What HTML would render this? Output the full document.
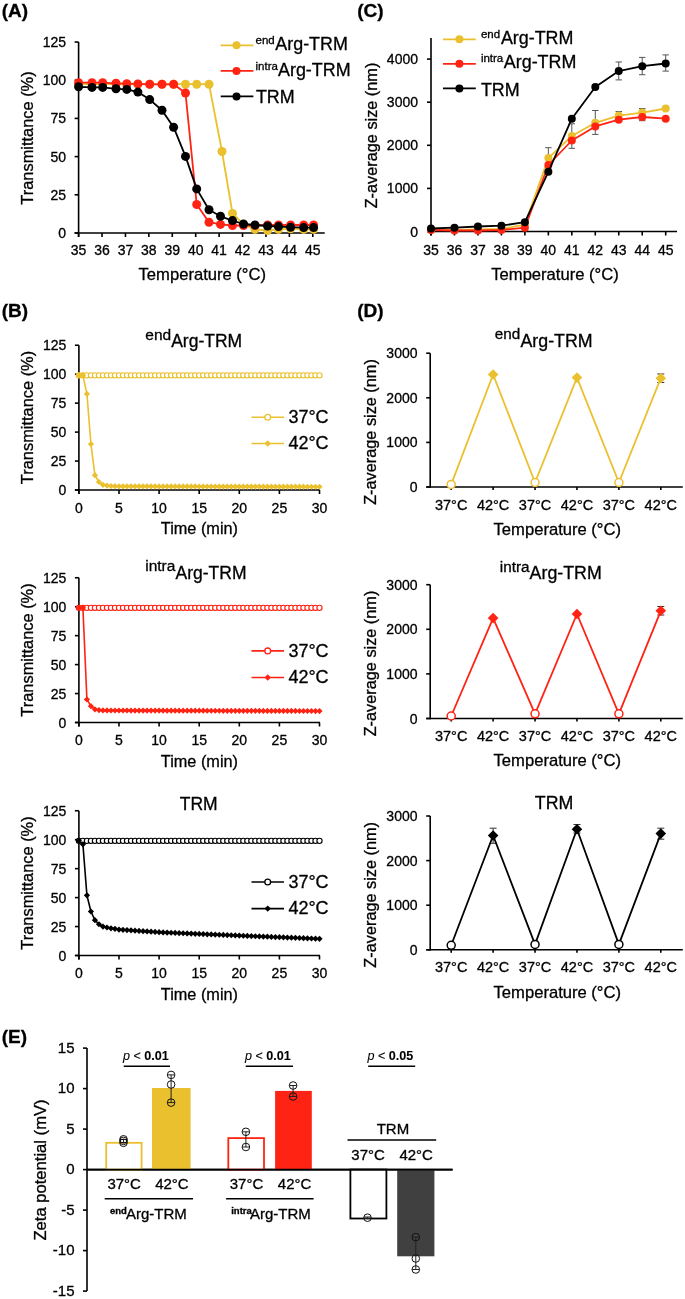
<!DOCTYPE html>
<html><head><meta charset="utf-8"><style>
html,body{margin:0;padding:0;background:#fff;}
svg{display:block;filter:blur(0.35px);}
text{font-family:"Liberation Sans", sans-serif;fill:#000;stroke:#000;stroke-width:0.3px;}
</style></head><body>
<svg width="685" height="1299" viewBox="0 0 685 1299">
<rect width="685" height="1299" fill="#fff"/>
<text x="1.80" y="16.60" font-size="19" font-weight="bold">(A)</text>
<text x="357.30" y="16.60" font-size="19" font-weight="bold">(C)</text>
<text x="1.80" y="317.30" font-size="19" font-weight="bold">(B)</text>
<text x="357.30" y="317.30" font-size="19" font-weight="bold">(D)</text>
<text x="1.80" y="1043.30" font-size="19" font-weight="bold">(E)</text>
<line x1="78.60" y1="42.00" x2="78.60" y2="237.00" stroke="#000000" stroke-width="1.6"/>
<line x1="74.60" y1="233.00" x2="324.70" y2="233.00" stroke="#000000" stroke-width="1.6"/>
<line x1="74.60" y1="233.00" x2="78.60" y2="233.00" stroke="#000000" stroke-width="1.6"/>
<text x="66.00" y="238.00" font-size="14" text-anchor="end">0</text>
<line x1="74.60" y1="194.80" x2="78.60" y2="194.80" stroke="#000000" stroke-width="1.6"/>
<text x="66.00" y="199.80" font-size="14" text-anchor="end">25</text>
<line x1="74.60" y1="156.60" x2="78.60" y2="156.60" stroke="#000000" stroke-width="1.6"/>
<text x="66.00" y="161.60" font-size="14" text-anchor="end">50</text>
<line x1="74.60" y1="118.40" x2="78.60" y2="118.40" stroke="#000000" stroke-width="1.6"/>
<text x="66.00" y="123.40" font-size="14" text-anchor="end">75</text>
<line x1="74.60" y1="80.20" x2="78.60" y2="80.20" stroke="#000000" stroke-width="1.6"/>
<text x="66.00" y="85.20" font-size="14" text-anchor="end">100</text>
<line x1="74.60" y1="42.00" x2="78.60" y2="42.00" stroke="#000000" stroke-width="1.6"/>
<text x="66.00" y="47.00" font-size="14" text-anchor="end">125</text>
<line x1="78.60" y1="233.00" x2="78.60" y2="237.00" stroke="#000000" stroke-width="1.6"/>
<text x="78.60" y="255.00" font-size="14" text-anchor="middle">35</text>
<line x1="102.02" y1="233.00" x2="102.02" y2="237.00" stroke="#000000" stroke-width="1.6"/>
<text x="102.02" y="255.00" font-size="14" text-anchor="middle">36</text>
<line x1="125.44" y1="233.00" x2="125.44" y2="237.00" stroke="#000000" stroke-width="1.6"/>
<text x="125.44" y="255.00" font-size="14" text-anchor="middle">37</text>
<line x1="148.86" y1="233.00" x2="148.86" y2="237.00" stroke="#000000" stroke-width="1.6"/>
<text x="148.86" y="255.00" font-size="14" text-anchor="middle">38</text>
<line x1="172.28" y1="233.00" x2="172.28" y2="237.00" stroke="#000000" stroke-width="1.6"/>
<text x="172.28" y="255.00" font-size="14" text-anchor="middle">39</text>
<line x1="195.70" y1="233.00" x2="195.70" y2="237.00" stroke="#000000" stroke-width="1.6"/>
<text x="195.70" y="255.00" font-size="14" text-anchor="middle">40</text>
<line x1="219.12" y1="233.00" x2="219.12" y2="237.00" stroke="#000000" stroke-width="1.6"/>
<text x="219.12" y="255.00" font-size="14" text-anchor="middle">41</text>
<line x1="242.54" y1="233.00" x2="242.54" y2="237.00" stroke="#000000" stroke-width="1.6"/>
<text x="242.54" y="255.00" font-size="14" text-anchor="middle">42</text>
<line x1="265.96" y1="233.00" x2="265.96" y2="237.00" stroke="#000000" stroke-width="1.6"/>
<text x="265.96" y="255.00" font-size="14" text-anchor="middle">43</text>
<line x1="289.38" y1="233.00" x2="289.38" y2="237.00" stroke="#000000" stroke-width="1.6"/>
<text x="289.38" y="255.00" font-size="14" text-anchor="middle">44</text>
<line x1="312.80" y1="233.00" x2="312.80" y2="237.00" stroke="#000000" stroke-width="1.6"/>
<text x="312.80" y="255.00" font-size="14" text-anchor="middle">45</text>
<text x="202.30" y="280.30" font-size="16.6" text-anchor="middle">Temperature (°C)</text>
<text x="32.80" y="138.00" font-size="16.4" text-anchor="middle" transform="rotate(-90 32.80 138.00)">Transmittance (%)</text>
<polyline points="78.60,84.20 92.00,84.20 102.70,84.20 116.00,84.20 126.80,84.20 137.90,84.20 149.70,84.20 162.00,84.20 173.60,84.20 185.50,84.20 196.70,84.20 209.00,84.20 222.00,151.50 232.50,213.40 243.50,224.40 255.00,229.40 267.60,230.50 278.50,229.40 290.60,228.70 303.70,229.40 313.60,229.40" fill="none" stroke="#EBC02E" stroke-width="1.8" stroke-linejoin="round"/>
<circle cx="78.60" cy="84.20" r="4.5" fill="#EBC02E" stroke="none" stroke-width="0"/>
<circle cx="92.00" cy="84.20" r="4.5" fill="#EBC02E" stroke="none" stroke-width="0"/>
<circle cx="102.70" cy="84.20" r="4.5" fill="#EBC02E" stroke="none" stroke-width="0"/>
<circle cx="116.00" cy="84.20" r="4.5" fill="#EBC02E" stroke="none" stroke-width="0"/>
<circle cx="126.80" cy="84.20" r="4.5" fill="#EBC02E" stroke="none" stroke-width="0"/>
<circle cx="137.90" cy="84.20" r="4.5" fill="#EBC02E" stroke="none" stroke-width="0"/>
<circle cx="149.70" cy="84.20" r="4.5" fill="#EBC02E" stroke="none" stroke-width="0"/>
<circle cx="162.00" cy="84.20" r="4.5" fill="#EBC02E" stroke="none" stroke-width="0"/>
<circle cx="173.60" cy="84.20" r="4.5" fill="#EBC02E" stroke="none" stroke-width="0"/>
<circle cx="185.50" cy="84.20" r="4.5" fill="#EBC02E" stroke="none" stroke-width="0"/>
<circle cx="196.70" cy="84.20" r="4.5" fill="#EBC02E" stroke="none" stroke-width="0"/>
<circle cx="209.00" cy="84.20" r="4.5" fill="#EBC02E" stroke="none" stroke-width="0"/>
<circle cx="222.00" cy="151.50" r="4.5" fill="#EBC02E" stroke="none" stroke-width="0"/>
<circle cx="232.50" cy="213.40" r="4.5" fill="#EBC02E" stroke="none" stroke-width="0"/>
<circle cx="243.50" cy="224.40" r="4.5" fill="#EBC02E" stroke="none" stroke-width="0"/>
<circle cx="255.00" cy="229.40" r="4.5" fill="#EBC02E" stroke="none" stroke-width="0"/>
<circle cx="267.60" cy="230.50" r="4.5" fill="#EBC02E" stroke="none" stroke-width="0"/>
<circle cx="278.50" cy="229.40" r="4.5" fill="#EBC02E" stroke="none" stroke-width="0"/>
<circle cx="290.60" cy="228.70" r="4.5" fill="#EBC02E" stroke="none" stroke-width="0"/>
<circle cx="303.70" cy="229.40" r="4.5" fill="#EBC02E" stroke="none" stroke-width="0"/>
<circle cx="313.60" cy="229.40" r="4.5" fill="#EBC02E" stroke="none" stroke-width="0"/>
<polyline points="78.60,82.70 92.00,82.70 102.70,82.70 116.00,83.30 126.80,83.70 137.90,83.90 149.70,84.30 162.00,84.30 173.60,84.30 185.50,93.00 196.70,204.50 209.00,222.20 220.50,224.40 232.50,225.50 243.50,225.50 255.00,225.50 267.60,225.00 278.50,225.00 290.60,225.00 303.70,225.00 313.60,225.00" fill="none" stroke="#FF2314" stroke-width="1.8" stroke-linejoin="round"/>
<circle cx="78.60" cy="82.70" r="4.5" fill="#FF2314" stroke="none" stroke-width="0"/>
<circle cx="92.00" cy="82.70" r="4.5" fill="#FF2314" stroke="none" stroke-width="0"/>
<circle cx="102.70" cy="82.70" r="4.5" fill="#FF2314" stroke="none" stroke-width="0"/>
<circle cx="116.00" cy="83.30" r="4.5" fill="#FF2314" stroke="none" stroke-width="0"/>
<circle cx="126.80" cy="83.70" r="4.5" fill="#FF2314" stroke="none" stroke-width="0"/>
<circle cx="137.90" cy="83.90" r="4.5" fill="#FF2314" stroke="none" stroke-width="0"/>
<circle cx="149.70" cy="84.30" r="4.5" fill="#FF2314" stroke="none" stroke-width="0"/>
<circle cx="162.00" cy="84.30" r="4.5" fill="#FF2314" stroke="none" stroke-width="0"/>
<circle cx="173.60" cy="84.30" r="4.5" fill="#FF2314" stroke="none" stroke-width="0"/>
<circle cx="185.50" cy="93.00" r="4.5" fill="#FF2314" stroke="none" stroke-width="0"/>
<circle cx="196.70" cy="204.50" r="4.5" fill="#FF2314" stroke="none" stroke-width="0"/>
<circle cx="209.00" cy="222.20" r="4.5" fill="#FF2314" stroke="none" stroke-width="0"/>
<circle cx="220.50" cy="224.40" r="4.5" fill="#FF2314" stroke="none" stroke-width="0"/>
<circle cx="232.50" cy="225.50" r="4.5" fill="#FF2314" stroke="none" stroke-width="0"/>
<circle cx="243.50" cy="225.50" r="4.5" fill="#FF2314" stroke="none" stroke-width="0"/>
<circle cx="255.00" cy="225.50" r="4.5" fill="#FF2314" stroke="none" stroke-width="0"/>
<circle cx="267.60" cy="225.00" r="4.5" fill="#FF2314" stroke="none" stroke-width="0"/>
<circle cx="278.50" cy="225.00" r="4.5" fill="#FF2314" stroke="none" stroke-width="0"/>
<circle cx="290.60" cy="225.00" r="4.5" fill="#FF2314" stroke="none" stroke-width="0"/>
<circle cx="303.70" cy="225.00" r="4.5" fill="#FF2314" stroke="none" stroke-width="0"/>
<circle cx="313.60" cy="225.00" r="4.5" fill="#FF2314" stroke="none" stroke-width="0"/>
<polyline points="78.60,86.80 92.00,87.40 102.70,87.40 116.00,88.80 126.80,89.40 137.90,92.10 149.70,99.60 162.00,110.30 173.60,127.20 185.50,156.40 196.70,188.90 209.00,209.70 220.50,216.30 232.50,220.60 243.50,224.00 255.00,225.00 267.60,226.00 278.50,226.60 290.60,227.20 303.70,227.60 313.60,227.60" fill="none" stroke="#000000" stroke-width="1.8" stroke-linejoin="round"/>
<circle cx="78.60" cy="86.80" r="4.5" fill="#000000" stroke="none" stroke-width="0"/>
<circle cx="92.00" cy="87.40" r="4.5" fill="#000000" stroke="none" stroke-width="0"/>
<circle cx="102.70" cy="87.40" r="4.5" fill="#000000" stroke="none" stroke-width="0"/>
<circle cx="116.00" cy="88.80" r="4.5" fill="#000000" stroke="none" stroke-width="0"/>
<circle cx="126.80" cy="89.40" r="4.5" fill="#000000" stroke="none" stroke-width="0"/>
<circle cx="137.90" cy="92.10" r="4.5" fill="#000000" stroke="none" stroke-width="0"/>
<circle cx="149.70" cy="99.60" r="4.5" fill="#000000" stroke="none" stroke-width="0"/>
<circle cx="162.00" cy="110.30" r="4.5" fill="#000000" stroke="none" stroke-width="0"/>
<circle cx="173.60" cy="127.20" r="4.5" fill="#000000" stroke="none" stroke-width="0"/>
<circle cx="185.50" cy="156.40" r="4.5" fill="#000000" stroke="none" stroke-width="0"/>
<circle cx="196.70" cy="188.90" r="4.5" fill="#000000" stroke="none" stroke-width="0"/>
<circle cx="209.00" cy="209.70" r="4.5" fill="#000000" stroke="none" stroke-width="0"/>
<circle cx="220.50" cy="216.30" r="4.5" fill="#000000" stroke="none" stroke-width="0"/>
<circle cx="232.50" cy="220.60" r="4.5" fill="#000000" stroke="none" stroke-width="0"/>
<circle cx="243.50" cy="224.00" r="4.5" fill="#000000" stroke="none" stroke-width="0"/>
<circle cx="255.00" cy="225.00" r="4.5" fill="#000000" stroke="none" stroke-width="0"/>
<circle cx="267.60" cy="226.00" r="4.5" fill="#000000" stroke="none" stroke-width="0"/>
<circle cx="278.50" cy="226.60" r="4.5" fill="#000000" stroke="none" stroke-width="0"/>
<circle cx="290.60" cy="227.20" r="4.5" fill="#000000" stroke="none" stroke-width="0"/>
<circle cx="303.70" cy="227.60" r="4.5" fill="#000000" stroke="none" stroke-width="0"/>
<circle cx="313.60" cy="227.60" r="4.5" fill="#000000" stroke="none" stroke-width="0"/>
<line x1="220.70" y1="45.30" x2="253.40" y2="45.30" stroke="#EBC02E" stroke-width="1.8"/>
<circle cx="236.50" cy="45.30" r="4" fill="#EBC02E" stroke="none" stroke-width="0"/>
<line x1="220.70" y1="70.90" x2="253.40" y2="70.90" stroke="#FF2314" stroke-width="1.8"/>
<circle cx="236.50" cy="70.90" r="4" fill="#FF2314" stroke="none" stroke-width="0"/>
<line x1="220.70" y1="96.40" x2="253.40" y2="96.40" stroke="#000000" stroke-width="1.8"/>
<circle cx="236.50" cy="96.40" r="4" fill="#000000" stroke="none" stroke-width="0"/>
<text x="255.50" y="44.30" font-size="11.5">end</text>
<text x="275.30" y="50.40" font-size="17.9">Arg-TRM</text>
<text x="255.50" y="69.50" font-size="11.5">intra</text>
<text x="278.00" y="75.60" font-size="17.9">Arg-TRM</text>
<text x="255.90" y="102.50" font-size="17.9">TRM</text>
<line x1="431.00" y1="38.00" x2="431.00" y2="235.50" stroke="#000000" stroke-width="1.6"/>
<line x1="427.00" y1="231.50" x2="677.00" y2="231.50" stroke="#000000" stroke-width="1.6"/>
<line x1="427.00" y1="231.50" x2="431.00" y2="231.50" stroke="#000000" stroke-width="1.6"/>
<text x="418.00" y="236.50" font-size="14" text-anchor="end">0</text>
<line x1="427.00" y1="188.40" x2="431.00" y2="188.40" stroke="#000000" stroke-width="1.6"/>
<text x="418.00" y="193.40" font-size="14" text-anchor="end">1000</text>
<line x1="427.00" y1="145.30" x2="431.00" y2="145.30" stroke="#000000" stroke-width="1.6"/>
<text x="418.00" y="150.30" font-size="14" text-anchor="end">2000</text>
<line x1="427.00" y1="102.20" x2="431.00" y2="102.20" stroke="#000000" stroke-width="1.6"/>
<text x="418.00" y="107.20" font-size="14" text-anchor="end">3000</text>
<line x1="427.00" y1="59.10" x2="431.00" y2="59.10" stroke="#000000" stroke-width="1.6"/>
<text x="418.00" y="64.10" font-size="14" text-anchor="end">4000</text>
<line x1="431.00" y1="231.50" x2="431.00" y2="235.50" stroke="#000000" stroke-width="1.6"/>
<text x="431.00" y="254.50" font-size="14" text-anchor="middle">35</text>
<line x1="454.47" y1="231.50" x2="454.47" y2="235.50" stroke="#000000" stroke-width="1.6"/>
<text x="454.47" y="254.50" font-size="14" text-anchor="middle">36</text>
<line x1="477.94" y1="231.50" x2="477.94" y2="235.50" stroke="#000000" stroke-width="1.6"/>
<text x="477.94" y="254.50" font-size="14" text-anchor="middle">37</text>
<line x1="501.41" y1="231.50" x2="501.41" y2="235.50" stroke="#000000" stroke-width="1.6"/>
<text x="501.41" y="254.50" font-size="14" text-anchor="middle">38</text>
<line x1="524.88" y1="231.50" x2="524.88" y2="235.50" stroke="#000000" stroke-width="1.6"/>
<text x="524.88" y="254.50" font-size="14" text-anchor="middle">39</text>
<line x1="548.35" y1="231.50" x2="548.35" y2="235.50" stroke="#000000" stroke-width="1.6"/>
<text x="548.35" y="254.50" font-size="14" text-anchor="middle">40</text>
<line x1="571.82" y1="231.50" x2="571.82" y2="235.50" stroke="#000000" stroke-width="1.6"/>
<text x="571.82" y="254.50" font-size="14" text-anchor="middle">41</text>
<line x1="595.29" y1="231.50" x2="595.29" y2="235.50" stroke="#000000" stroke-width="1.6"/>
<text x="595.29" y="254.50" font-size="14" text-anchor="middle">42</text>
<line x1="618.76" y1="231.50" x2="618.76" y2="235.50" stroke="#000000" stroke-width="1.6"/>
<text x="618.76" y="254.50" font-size="14" text-anchor="middle">43</text>
<line x1="642.23" y1="231.50" x2="642.23" y2="235.50" stroke="#000000" stroke-width="1.6"/>
<text x="642.23" y="254.50" font-size="14" text-anchor="middle">44</text>
<line x1="665.70" y1="231.50" x2="665.70" y2="235.50" stroke="#000000" stroke-width="1.6"/>
<text x="665.70" y="254.50" font-size="14" text-anchor="middle">45</text>
<text x="555.00" y="279.60" font-size="16.6" text-anchor="middle">Temperature (°C)</text>
<text x="377.30" y="135.50" font-size="16.3" text-anchor="middle" transform="rotate(-90 377.30 135.50)">Z-average size (nm)</text>
<line x1="548.35" y1="147.70" x2="548.35" y2="168.00" stroke="#555" stroke-width="1.0"/>
<line x1="545.15" y1="147.70" x2="551.55" y2="147.70" stroke="#555" stroke-width="1.0"/>
<line x1="545.15" y1="168.00" x2="551.55" y2="168.00" stroke="#555" stroke-width="1.0"/>
<line x1="571.82" y1="123.80" x2="571.82" y2="148.30" stroke="#555" stroke-width="1.0"/>
<line x1="568.62" y1="123.80" x2="575.02" y2="123.80" stroke="#555" stroke-width="1.0"/>
<line x1="568.62" y1="148.30" x2="575.02" y2="148.30" stroke="#555" stroke-width="1.0"/>
<line x1="595.29" y1="110.50" x2="595.29" y2="134.40" stroke="#555" stroke-width="1.0"/>
<line x1="592.09" y1="110.50" x2="598.49" y2="110.50" stroke="#555" stroke-width="1.0"/>
<line x1="592.09" y1="134.40" x2="598.49" y2="134.40" stroke="#555" stroke-width="1.0"/>
<line x1="618.76" y1="111.50" x2="618.76" y2="120.00" stroke="#555" stroke-width="1.0"/>
<line x1="615.56" y1="111.50" x2="621.96" y2="111.50" stroke="#555" stroke-width="1.0"/>
<line x1="615.56" y1="120.00" x2="621.96" y2="120.00" stroke="#555" stroke-width="1.0"/>
<line x1="642.23" y1="108.50" x2="642.23" y2="120.70" stroke="#555" stroke-width="1.0"/>
<line x1="639.03" y1="108.50" x2="645.43" y2="108.50" stroke="#555" stroke-width="1.0"/>
<line x1="639.03" y1="120.70" x2="645.43" y2="120.70" stroke="#555" stroke-width="1.0"/>
<polyline points="431.00,230.00 454.47,230.00 477.94,229.50 501.41,229.00 524.88,224.60 548.35,158.10 571.82,136.00 595.29,122.80 618.76,115.60 642.23,112.60 665.70,108.50" fill="none" stroke="#EBC02E" stroke-width="1.8" stroke-linejoin="round"/>
<circle cx="431.00" cy="230.00" r="4.0" fill="#EBC02E" stroke="none" stroke-width="0"/>
<circle cx="454.47" cy="230.00" r="4.0" fill="#EBC02E" stroke="none" stroke-width="0"/>
<circle cx="477.94" cy="229.50" r="4.0" fill="#EBC02E" stroke="none" stroke-width="0"/>
<circle cx="501.41" cy="229.00" r="4.0" fill="#EBC02E" stroke="none" stroke-width="0"/>
<circle cx="524.88" cy="224.60" r="4.0" fill="#EBC02E" stroke="none" stroke-width="0"/>
<circle cx="548.35" cy="158.10" r="4.0" fill="#EBC02E" stroke="none" stroke-width="0"/>
<circle cx="571.82" cy="136.00" r="4.0" fill="#EBC02E" stroke="none" stroke-width="0"/>
<circle cx="595.29" cy="122.80" r="4.0" fill="#EBC02E" stroke="none" stroke-width="0"/>
<circle cx="618.76" cy="115.60" r="4.0" fill="#EBC02E" stroke="none" stroke-width="0"/>
<circle cx="642.23" cy="112.60" r="4.0" fill="#EBC02E" stroke="none" stroke-width="0"/>
<circle cx="665.70" cy="108.50" r="4.0" fill="#EBC02E" stroke="none" stroke-width="0"/>
<polyline points="431.00,230.00 454.47,230.50 477.94,230.50 501.41,230.00 524.88,227.70 548.35,165.00 571.82,140.50 595.29,126.40 618.76,119.70 642.23,117.00 665.70,118.70" fill="none" stroke="#FF2314" stroke-width="1.8" stroke-linejoin="round"/>
<circle cx="431.00" cy="230.00" r="4.0" fill="#FF2314" stroke="none" stroke-width="0"/>
<circle cx="454.47" cy="230.50" r="4.0" fill="#FF2314" stroke="none" stroke-width="0"/>
<circle cx="477.94" cy="230.50" r="4.0" fill="#FF2314" stroke="none" stroke-width="0"/>
<circle cx="501.41" cy="230.00" r="4.0" fill="#FF2314" stroke="none" stroke-width="0"/>
<circle cx="524.88" cy="227.70" r="4.0" fill="#FF2314" stroke="none" stroke-width="0"/>
<circle cx="548.35" cy="165.00" r="4.0" fill="#FF2314" stroke="none" stroke-width="0"/>
<circle cx="571.82" cy="140.50" r="4.0" fill="#FF2314" stroke="none" stroke-width="0"/>
<circle cx="595.29" cy="126.40" r="4.0" fill="#FF2314" stroke="none" stroke-width="0"/>
<circle cx="618.76" cy="119.70" r="4.0" fill="#FF2314" stroke="none" stroke-width="0"/>
<circle cx="642.23" cy="117.00" r="4.0" fill="#FF2314" stroke="none" stroke-width="0"/>
<circle cx="665.70" cy="118.70" r="4.0" fill="#FF2314" stroke="none" stroke-width="0"/>
<line x1="618.76" y1="62.00" x2="618.76" y2="79.90" stroke="#555" stroke-width="1.0"/>
<line x1="615.56" y1="62.00" x2="621.96" y2="62.00" stroke="#555" stroke-width="1.0"/>
<line x1="615.56" y1="79.90" x2="621.96" y2="79.90" stroke="#555" stroke-width="1.0"/>
<line x1="642.23" y1="57.40" x2="642.23" y2="74.70" stroke="#555" stroke-width="1.0"/>
<line x1="639.03" y1="57.40" x2="645.43" y2="57.40" stroke="#555" stroke-width="1.0"/>
<line x1="639.03" y1="74.70" x2="645.43" y2="74.70" stroke="#555" stroke-width="1.0"/>
<line x1="665.70" y1="54.90" x2="665.70" y2="71.10" stroke="#555" stroke-width="1.0"/>
<line x1="662.50" y1="54.90" x2="668.90" y2="54.90" stroke="#555" stroke-width="1.0"/>
<line x1="662.50" y1="71.10" x2="668.90" y2="71.10" stroke="#555" stroke-width="1.0"/>
<polyline points="431.00,228.50 454.47,227.70 477.94,226.50 501.41,225.70 524.88,222.20 548.35,171.80 571.82,118.70 595.29,87.00 618.76,71.10 642.23,66.20 665.70,63.50" fill="none" stroke="#000000" stroke-width="1.8" stroke-linejoin="round"/>
<circle cx="431.00" cy="228.50" r="4.0" fill="#000000" stroke="none" stroke-width="0"/>
<circle cx="454.47" cy="227.70" r="4.0" fill="#000000" stroke="none" stroke-width="0"/>
<circle cx="477.94" cy="226.50" r="4.0" fill="#000000" stroke="none" stroke-width="0"/>
<circle cx="501.41" cy="225.70" r="4.0" fill="#000000" stroke="none" stroke-width="0"/>
<circle cx="524.88" cy="222.20" r="4.0" fill="#000000" stroke="none" stroke-width="0"/>
<circle cx="548.35" cy="171.80" r="4.0" fill="#000000" stroke="none" stroke-width="0"/>
<circle cx="571.82" cy="118.70" r="4.0" fill="#000000" stroke="none" stroke-width="0"/>
<circle cx="595.29" cy="87.00" r="4.0" fill="#000000" stroke="none" stroke-width="0"/>
<circle cx="618.76" cy="71.10" r="4.0" fill="#000000" stroke="none" stroke-width="0"/>
<circle cx="642.23" cy="66.20" r="4.0" fill="#000000" stroke="none" stroke-width="0"/>
<circle cx="665.70" cy="63.50" r="4.0" fill="#000000" stroke="none" stroke-width="0"/>
<line x1="443.00" y1="39.30" x2="475.80" y2="39.30" stroke="#EBC02E" stroke-width="1.8"/>
<circle cx="459.40" cy="39.30" r="4" fill="#EBC02E" stroke="none" stroke-width="0"/>
<line x1="443.00" y1="63.80" x2="475.80" y2="63.80" stroke="#FF2314" stroke-width="1.8"/>
<circle cx="459.40" cy="63.80" r="4" fill="#FF2314" stroke="none" stroke-width="0"/>
<line x1="443.00" y1="88.40" x2="475.80" y2="88.40" stroke="#000000" stroke-width="1.8"/>
<circle cx="459.40" cy="88.40" r="4" fill="#000000" stroke="none" stroke-width="0"/>
<text x="480.90" y="37.80" font-size="11.5">end</text>
<text x="500.90" y="43.80" font-size="17.9">Arg-TRM</text>
<text x="480.90" y="62.30" font-size="11.5">intra</text>
<text x="503.80" y="68.30" font-size="17.9">Arg-TRM</text>
<text x="480.90" y="95.50" font-size="17.9">TRM</text>
<line x1="78.90" y1="345.25" x2="78.90" y2="494.00" stroke="#000000" stroke-width="1.6"/>
<line x1="74.90" y1="490.00" x2="320.00" y2="490.00" stroke="#000000" stroke-width="1.6"/>
<line x1="74.90" y1="490.00" x2="78.90" y2="490.00" stroke="#000000" stroke-width="1.6"/>
<text x="66.30" y="495.00" font-size="14" text-anchor="end">0</text>
<line x1="74.90" y1="461.05" x2="78.90" y2="461.05" stroke="#000000" stroke-width="1.6"/>
<text x="66.30" y="466.05" font-size="14" text-anchor="end">25</text>
<line x1="74.90" y1="432.10" x2="78.90" y2="432.10" stroke="#000000" stroke-width="1.6"/>
<text x="66.30" y="437.10" font-size="14" text-anchor="end">50</text>
<line x1="74.90" y1="403.15" x2="78.90" y2="403.15" stroke="#000000" stroke-width="1.6"/>
<text x="66.30" y="408.15" font-size="14" text-anchor="end">75</text>
<line x1="74.90" y1="374.20" x2="78.90" y2="374.20" stroke="#000000" stroke-width="1.6"/>
<text x="66.30" y="379.20" font-size="14" text-anchor="end">100</text>
<line x1="74.90" y1="345.25" x2="78.90" y2="345.25" stroke="#000000" stroke-width="1.6"/>
<text x="66.30" y="350.25" font-size="14" text-anchor="end">125</text>
<line x1="78.90" y1="490.00" x2="78.90" y2="494.00" stroke="#000000" stroke-width="1.6"/>
<text x="78.90" y="512.50" font-size="14" text-anchor="middle">0</text>
<line x1="119.00" y1="490.00" x2="119.00" y2="494.00" stroke="#000000" stroke-width="1.6"/>
<text x="119.00" y="512.50" font-size="14" text-anchor="middle">5</text>
<line x1="159.10" y1="490.00" x2="159.10" y2="494.00" stroke="#000000" stroke-width="1.6"/>
<text x="159.10" y="512.50" font-size="14" text-anchor="middle">10</text>
<line x1="199.20" y1="490.00" x2="199.20" y2="494.00" stroke="#000000" stroke-width="1.6"/>
<text x="199.20" y="512.50" font-size="14" text-anchor="middle">15</text>
<line x1="239.30" y1="490.00" x2="239.30" y2="494.00" stroke="#000000" stroke-width="1.6"/>
<text x="239.30" y="512.50" font-size="14" text-anchor="middle">20</text>
<line x1="279.40" y1="490.00" x2="279.40" y2="494.00" stroke="#000000" stroke-width="1.6"/>
<text x="279.40" y="512.50" font-size="14" text-anchor="middle">25</text>
<line x1="319.50" y1="490.00" x2="319.50" y2="494.00" stroke="#000000" stroke-width="1.6"/>
<text x="319.50" y="512.50" font-size="14" text-anchor="middle">30</text>
<text x="199.40" y="534.30" font-size="16.3" text-anchor="middle">Time (min)</text>
<text x="33.30" y="417.50" font-size="16.4" text-anchor="middle" transform="rotate(-90 33.30 417.50)">Transmittance (%)</text>
<polyline points="78.90,375.36 82.91,375.36 86.92,375.36 90.93,375.36 94.94,375.36 98.95,375.36 102.96,375.36 106.97,375.36 110.98,375.36 114.99,375.36 119.00,375.36 123.01,375.36 127.02,375.36 131.03,375.36 135.04,375.36 139.05,375.36 143.06,375.36 147.07,375.36 151.08,375.36 155.09,375.36 159.10,375.36 163.11,375.36 167.12,375.36 171.13,375.36 175.14,375.36 179.15,375.36 183.16,375.36 187.17,375.36 191.18,375.36 195.19,375.36 199.20,375.36 203.21,375.36 207.22,375.36 211.23,375.36 215.24,375.36 219.25,375.36 223.26,375.36 227.27,375.36 231.28,375.36 235.29,375.36 239.30,375.36 243.31,375.36 247.32,375.36 251.33,375.36 255.34,375.36 259.35,375.36 263.36,375.36 267.37,375.36 271.38,375.36 275.39,375.36 279.40,375.36 283.41,375.36 287.42,375.36 291.43,375.36 295.44,375.36 299.45,375.36 303.46,375.36 307.47,375.36 311.48,375.36 315.49,375.36 319.50,375.36" fill="none" stroke="#EBC02E" stroke-width="1.4" stroke-linejoin="round"/>
<circle cx="78.90" cy="375.36" r="2.6" fill="#fff" stroke="#EBC02E" stroke-width="1.15"/>
<circle cx="82.91" cy="375.36" r="2.6" fill="#fff" stroke="#EBC02E" stroke-width="1.15"/>
<circle cx="86.92" cy="375.36" r="2.6" fill="#fff" stroke="#EBC02E" stroke-width="1.15"/>
<circle cx="90.93" cy="375.36" r="2.6" fill="#fff" stroke="#EBC02E" stroke-width="1.15"/>
<circle cx="94.94" cy="375.36" r="2.6" fill="#fff" stroke="#EBC02E" stroke-width="1.15"/>
<circle cx="98.95" cy="375.36" r="2.6" fill="#fff" stroke="#EBC02E" stroke-width="1.15"/>
<circle cx="102.96" cy="375.36" r="2.6" fill="#fff" stroke="#EBC02E" stroke-width="1.15"/>
<circle cx="106.97" cy="375.36" r="2.6" fill="#fff" stroke="#EBC02E" stroke-width="1.15"/>
<circle cx="110.98" cy="375.36" r="2.6" fill="#fff" stroke="#EBC02E" stroke-width="1.15"/>
<circle cx="114.99" cy="375.36" r="2.6" fill="#fff" stroke="#EBC02E" stroke-width="1.15"/>
<circle cx="119.00" cy="375.36" r="2.6" fill="#fff" stroke="#EBC02E" stroke-width="1.15"/>
<circle cx="123.01" cy="375.36" r="2.6" fill="#fff" stroke="#EBC02E" stroke-width="1.15"/>
<circle cx="127.02" cy="375.36" r="2.6" fill="#fff" stroke="#EBC02E" stroke-width="1.15"/>
<circle cx="131.03" cy="375.36" r="2.6" fill="#fff" stroke="#EBC02E" stroke-width="1.15"/>
<circle cx="135.04" cy="375.36" r="2.6" fill="#fff" stroke="#EBC02E" stroke-width="1.15"/>
<circle cx="139.05" cy="375.36" r="2.6" fill="#fff" stroke="#EBC02E" stroke-width="1.15"/>
<circle cx="143.06" cy="375.36" r="2.6" fill="#fff" stroke="#EBC02E" stroke-width="1.15"/>
<circle cx="147.07" cy="375.36" r="2.6" fill="#fff" stroke="#EBC02E" stroke-width="1.15"/>
<circle cx="151.08" cy="375.36" r="2.6" fill="#fff" stroke="#EBC02E" stroke-width="1.15"/>
<circle cx="155.09" cy="375.36" r="2.6" fill="#fff" stroke="#EBC02E" stroke-width="1.15"/>
<circle cx="159.10" cy="375.36" r="2.6" fill="#fff" stroke="#EBC02E" stroke-width="1.15"/>
<circle cx="163.11" cy="375.36" r="2.6" fill="#fff" stroke="#EBC02E" stroke-width="1.15"/>
<circle cx="167.12" cy="375.36" r="2.6" fill="#fff" stroke="#EBC02E" stroke-width="1.15"/>
<circle cx="171.13" cy="375.36" r="2.6" fill="#fff" stroke="#EBC02E" stroke-width="1.15"/>
<circle cx="175.14" cy="375.36" r="2.6" fill="#fff" stroke="#EBC02E" stroke-width="1.15"/>
<circle cx="179.15" cy="375.36" r="2.6" fill="#fff" stroke="#EBC02E" stroke-width="1.15"/>
<circle cx="183.16" cy="375.36" r="2.6" fill="#fff" stroke="#EBC02E" stroke-width="1.15"/>
<circle cx="187.17" cy="375.36" r="2.6" fill="#fff" stroke="#EBC02E" stroke-width="1.15"/>
<circle cx="191.18" cy="375.36" r="2.6" fill="#fff" stroke="#EBC02E" stroke-width="1.15"/>
<circle cx="195.19" cy="375.36" r="2.6" fill="#fff" stroke="#EBC02E" stroke-width="1.15"/>
<circle cx="199.20" cy="375.36" r="2.6" fill="#fff" stroke="#EBC02E" stroke-width="1.15"/>
<circle cx="203.21" cy="375.36" r="2.6" fill="#fff" stroke="#EBC02E" stroke-width="1.15"/>
<circle cx="207.22" cy="375.36" r="2.6" fill="#fff" stroke="#EBC02E" stroke-width="1.15"/>
<circle cx="211.23" cy="375.36" r="2.6" fill="#fff" stroke="#EBC02E" stroke-width="1.15"/>
<circle cx="215.24" cy="375.36" r="2.6" fill="#fff" stroke="#EBC02E" stroke-width="1.15"/>
<circle cx="219.25" cy="375.36" r="2.6" fill="#fff" stroke="#EBC02E" stroke-width="1.15"/>
<circle cx="223.26" cy="375.36" r="2.6" fill="#fff" stroke="#EBC02E" stroke-width="1.15"/>
<circle cx="227.27" cy="375.36" r="2.6" fill="#fff" stroke="#EBC02E" stroke-width="1.15"/>
<circle cx="231.28" cy="375.36" r="2.6" fill="#fff" stroke="#EBC02E" stroke-width="1.15"/>
<circle cx="235.29" cy="375.36" r="2.6" fill="#fff" stroke="#EBC02E" stroke-width="1.15"/>
<circle cx="239.30" cy="375.36" r="2.6" fill="#fff" stroke="#EBC02E" stroke-width="1.15"/>
<circle cx="243.31" cy="375.36" r="2.6" fill="#fff" stroke="#EBC02E" stroke-width="1.15"/>
<circle cx="247.32" cy="375.36" r="2.6" fill="#fff" stroke="#EBC02E" stroke-width="1.15"/>
<circle cx="251.33" cy="375.36" r="2.6" fill="#fff" stroke="#EBC02E" stroke-width="1.15"/>
<circle cx="255.34" cy="375.36" r="2.6" fill="#fff" stroke="#EBC02E" stroke-width="1.15"/>
<circle cx="259.35" cy="375.36" r="2.6" fill="#fff" stroke="#EBC02E" stroke-width="1.15"/>
<circle cx="263.36" cy="375.36" r="2.6" fill="#fff" stroke="#EBC02E" stroke-width="1.15"/>
<circle cx="267.37" cy="375.36" r="2.6" fill="#fff" stroke="#EBC02E" stroke-width="1.15"/>
<circle cx="271.38" cy="375.36" r="2.6" fill="#fff" stroke="#EBC02E" stroke-width="1.15"/>
<circle cx="275.39" cy="375.36" r="2.6" fill="#fff" stroke="#EBC02E" stroke-width="1.15"/>
<circle cx="279.40" cy="375.36" r="2.6" fill="#fff" stroke="#EBC02E" stroke-width="1.15"/>
<circle cx="283.41" cy="375.36" r="2.6" fill="#fff" stroke="#EBC02E" stroke-width="1.15"/>
<circle cx="287.42" cy="375.36" r="2.6" fill="#fff" stroke="#EBC02E" stroke-width="1.15"/>
<circle cx="291.43" cy="375.36" r="2.6" fill="#fff" stroke="#EBC02E" stroke-width="1.15"/>
<circle cx="295.44" cy="375.36" r="2.6" fill="#fff" stroke="#EBC02E" stroke-width="1.15"/>
<circle cx="299.45" cy="375.36" r="2.6" fill="#fff" stroke="#EBC02E" stroke-width="1.15"/>
<circle cx="303.46" cy="375.36" r="2.6" fill="#fff" stroke="#EBC02E" stroke-width="1.15"/>
<circle cx="307.47" cy="375.36" r="2.6" fill="#fff" stroke="#EBC02E" stroke-width="1.15"/>
<circle cx="311.48" cy="375.36" r="2.6" fill="#fff" stroke="#EBC02E" stroke-width="1.15"/>
<circle cx="315.49" cy="375.36" r="2.6" fill="#fff" stroke="#EBC02E" stroke-width="1.15"/>
<circle cx="319.50" cy="375.36" r="2.6" fill="#fff" stroke="#EBC02E" stroke-width="1.15"/>
<polyline points="78.90,375.36 82.91,375.36 86.92,393.89 90.93,444.03 94.94,475.18 98.95,482.01 102.96,484.79 106.97,485.60 110.98,486.06 114.99,486.18 119.00,486.29 123.01,486.30 127.02,486.31 131.03,486.32 135.04,486.33 139.05,486.34 143.06,486.35 147.07,486.36 151.08,486.37 155.09,486.38 159.10,486.39 163.11,486.40 167.12,486.41 171.13,486.41 175.14,486.42 179.15,486.43 183.16,486.44 187.17,486.45 191.18,486.46 195.19,486.47 199.20,486.48 203.21,486.49 207.22,486.50 211.23,486.51 215.24,486.52 219.25,486.53 223.26,486.54 227.27,486.54 231.28,486.55 235.29,486.56 239.30,486.57 243.31,486.58 247.32,486.59 251.33,486.60 255.34,486.61 259.35,486.62 263.36,486.63 267.37,486.64 271.38,486.65 275.39,486.66 279.40,486.66 283.41,486.67 287.42,486.68 291.43,486.69 295.44,486.70 299.45,486.71 303.46,486.72 307.47,486.73 311.48,486.74 315.49,486.75 319.50,486.76" fill="none" stroke="#EBC02E" stroke-width="1.6" stroke-linejoin="round"/>
<path d="M78.90 372.26L82.00 375.36L78.90 378.46L75.80 375.36Z" fill="#EBC02E"/>
<path d="M82.91 372.26L86.01 375.36L82.91 378.46L79.81 375.36Z" fill="#EBC02E"/>
<path d="M86.92 390.79L90.02 393.89L86.92 396.99L83.82 393.89Z" fill="#EBC02E"/>
<path d="M90.93 440.93L94.03 444.03L90.93 447.13L87.83 444.03Z" fill="#EBC02E"/>
<path d="M94.94 472.08L98.04 475.18L94.94 478.28L91.84 475.18Z" fill="#EBC02E"/>
<path d="M98.95 478.91L102.05 482.01L98.95 485.11L95.85 482.01Z" fill="#EBC02E"/>
<path d="M102.96 481.69L106.06 484.79L102.96 487.89L99.86 484.79Z" fill="#EBC02E"/>
<path d="M106.97 482.50L110.07 485.60L106.97 488.70L103.87 485.60Z" fill="#EBC02E"/>
<path d="M110.98 482.96L114.08 486.06L110.98 489.16L107.88 486.06Z" fill="#EBC02E"/>
<path d="M114.99 483.08L118.09 486.18L114.99 489.28L111.89 486.18Z" fill="#EBC02E"/>
<path d="M119.00 483.19L122.10 486.29L119.00 489.39L115.90 486.29Z" fill="#EBC02E"/>
<path d="M123.01 483.20L126.11 486.30L123.01 489.40L119.91 486.30Z" fill="#EBC02E"/>
<path d="M127.02 483.21L130.12 486.31L127.02 489.41L123.92 486.31Z" fill="#EBC02E"/>
<path d="M131.03 483.22L134.13 486.32L131.03 489.42L127.93 486.32Z" fill="#EBC02E"/>
<path d="M135.04 483.23L138.14 486.33L135.04 489.43L131.94 486.33Z" fill="#EBC02E"/>
<path d="M139.05 483.24L142.15 486.34L139.05 489.44L135.95 486.34Z" fill="#EBC02E"/>
<path d="M143.06 483.25L146.16 486.35L143.06 489.45L139.96 486.35Z" fill="#EBC02E"/>
<path d="M147.07 483.26L150.17 486.36L147.07 489.46L143.97 486.36Z" fill="#EBC02E"/>
<path d="M151.08 483.27L154.18 486.37L151.08 489.47L147.98 486.37Z" fill="#EBC02E"/>
<path d="M155.09 483.28L158.19 486.38L155.09 489.48L151.99 486.38Z" fill="#EBC02E"/>
<path d="M159.10 483.29L162.20 486.39L159.10 489.49L156.00 486.39Z" fill="#EBC02E"/>
<path d="M163.11 483.30L166.21 486.40L163.11 489.50L160.01 486.40Z" fill="#EBC02E"/>
<path d="M167.12 483.31L170.22 486.41L167.12 489.51L164.02 486.41Z" fill="#EBC02E"/>
<path d="M171.13 483.31L174.23 486.41L171.13 489.51L168.03 486.41Z" fill="#EBC02E"/>
<path d="M175.14 483.32L178.24 486.42L175.14 489.52L172.04 486.42Z" fill="#EBC02E"/>
<path d="M179.15 483.33L182.25 486.43L179.15 489.53L176.05 486.43Z" fill="#EBC02E"/>
<path d="M183.16 483.34L186.26 486.44L183.16 489.54L180.06 486.44Z" fill="#EBC02E"/>
<path d="M187.17 483.35L190.27 486.45L187.17 489.55L184.07 486.45Z" fill="#EBC02E"/>
<path d="M191.18 483.36L194.28 486.46L191.18 489.56L188.08 486.46Z" fill="#EBC02E"/>
<path d="M195.19 483.37L198.29 486.47L195.19 489.57L192.09 486.47Z" fill="#EBC02E"/>
<path d="M199.20 483.38L202.30 486.48L199.20 489.58L196.10 486.48Z" fill="#EBC02E"/>
<path d="M203.21 483.39L206.31 486.49L203.21 489.59L200.11 486.49Z" fill="#EBC02E"/>
<path d="M207.22 483.40L210.32 486.50L207.22 489.60L204.12 486.50Z" fill="#EBC02E"/>
<path d="M211.23 483.41L214.33 486.51L211.23 489.61L208.13 486.51Z" fill="#EBC02E"/>
<path d="M215.24 483.42L218.34 486.52L215.24 489.62L212.14 486.52Z" fill="#EBC02E"/>
<path d="M219.25 483.43L222.35 486.53L219.25 489.63L216.15 486.53Z" fill="#EBC02E"/>
<path d="M223.26 483.44L226.36 486.54L223.26 489.64L220.16 486.54Z" fill="#EBC02E"/>
<path d="M227.27 483.44L230.37 486.54L227.27 489.64L224.17 486.54Z" fill="#EBC02E"/>
<path d="M231.28 483.45L234.38 486.55L231.28 489.65L228.18 486.55Z" fill="#EBC02E"/>
<path d="M235.29 483.46L238.39 486.56L235.29 489.66L232.19 486.56Z" fill="#EBC02E"/>
<path d="M239.30 483.47L242.40 486.57L239.30 489.67L236.20 486.57Z" fill="#EBC02E"/>
<path d="M243.31 483.48L246.41 486.58L243.31 489.68L240.21 486.58Z" fill="#EBC02E"/>
<path d="M247.32 483.49L250.42 486.59L247.32 489.69L244.22 486.59Z" fill="#EBC02E"/>
<path d="M251.33 483.50L254.43 486.60L251.33 489.70L248.23 486.60Z" fill="#EBC02E"/>
<path d="M255.34 483.51L258.44 486.61L255.34 489.71L252.24 486.61Z" fill="#EBC02E"/>
<path d="M259.35 483.52L262.45 486.62L259.35 489.72L256.25 486.62Z" fill="#EBC02E"/>
<path d="M263.36 483.53L266.46 486.63L263.36 489.73L260.26 486.63Z" fill="#EBC02E"/>
<path d="M267.37 483.54L270.47 486.64L267.37 489.74L264.27 486.64Z" fill="#EBC02E"/>
<path d="M271.38 483.55L274.48 486.65L271.38 489.75L268.28 486.65Z" fill="#EBC02E"/>
<path d="M275.39 483.56L278.49 486.66L275.39 489.76L272.29 486.66Z" fill="#EBC02E"/>
<path d="M279.40 483.56L282.50 486.66L279.40 489.76L276.30 486.66Z" fill="#EBC02E"/>
<path d="M283.41 483.57L286.51 486.67L283.41 489.77L280.31 486.67Z" fill="#EBC02E"/>
<path d="M287.42 483.58L290.52 486.68L287.42 489.78L284.32 486.68Z" fill="#EBC02E"/>
<path d="M291.43 483.59L294.53 486.69L291.43 489.79L288.33 486.69Z" fill="#EBC02E"/>
<path d="M295.44 483.60L298.54 486.70L295.44 489.80L292.34 486.70Z" fill="#EBC02E"/>
<path d="M299.45 483.61L302.55 486.71L299.45 489.81L296.35 486.71Z" fill="#EBC02E"/>
<path d="M303.46 483.62L306.56 486.72L303.46 489.82L300.36 486.72Z" fill="#EBC02E"/>
<path d="M307.47 483.63L310.57 486.73L307.47 489.83L304.37 486.73Z" fill="#EBC02E"/>
<path d="M311.48 483.64L314.58 486.74L311.48 489.84L308.38 486.74Z" fill="#EBC02E"/>
<path d="M315.49 483.65L318.59 486.75L315.49 489.85L312.39 486.75Z" fill="#EBC02E"/>
<path d="M319.50 483.66L322.60 486.76L319.50 489.86L316.40 486.76Z" fill="#EBC02E"/>
<line x1="251.50" y1="417.30" x2="284.00" y2="417.30" stroke="#EBC02E" stroke-width="1.6"/>
<circle cx="267.70" cy="417.30" r="2.9" fill="#fff" stroke="#EBC02E" stroke-width="1.3"/>
<line x1="251.50" y1="443.50" x2="284.00" y2="443.50" stroke="#EBC02E" stroke-width="1.6"/>
<path d="M267.70 440.30L270.90 443.50L267.70 446.70L264.50 443.50Z" fill="#EBC02E"/>
<text x="288.40" y="423.10" font-size="18">37°C</text>
<text x="288.40" y="449.30" font-size="18">42°C</text>
<text x="145.30" y="339.50" font-size="15.5">end</text>
<text x="171.20" y="346.60" font-size="17.5">Arg-TRM</text>
<line x1="78.90" y1="577.75" x2="78.90" y2="726.50" stroke="#000000" stroke-width="1.6"/>
<line x1="74.90" y1="722.50" x2="320.00" y2="722.50" stroke="#000000" stroke-width="1.6"/>
<line x1="74.90" y1="722.50" x2="78.90" y2="722.50" stroke="#000000" stroke-width="1.6"/>
<text x="66.30" y="727.50" font-size="14" text-anchor="end">0</text>
<line x1="74.90" y1="693.55" x2="78.90" y2="693.55" stroke="#000000" stroke-width="1.6"/>
<text x="66.30" y="698.55" font-size="14" text-anchor="end">25</text>
<line x1="74.90" y1="664.60" x2="78.90" y2="664.60" stroke="#000000" stroke-width="1.6"/>
<text x="66.30" y="669.60" font-size="14" text-anchor="end">50</text>
<line x1="74.90" y1="635.65" x2="78.90" y2="635.65" stroke="#000000" stroke-width="1.6"/>
<text x="66.30" y="640.65" font-size="14" text-anchor="end">75</text>
<line x1="74.90" y1="606.70" x2="78.90" y2="606.70" stroke="#000000" stroke-width="1.6"/>
<text x="66.30" y="611.70" font-size="14" text-anchor="end">100</text>
<line x1="74.90" y1="577.75" x2="78.90" y2="577.75" stroke="#000000" stroke-width="1.6"/>
<text x="66.30" y="582.75" font-size="14" text-anchor="end">125</text>
<line x1="78.90" y1="722.50" x2="78.90" y2="726.50" stroke="#000000" stroke-width="1.6"/>
<text x="78.90" y="745.00" font-size="14" text-anchor="middle">0</text>
<line x1="119.00" y1="722.50" x2="119.00" y2="726.50" stroke="#000000" stroke-width="1.6"/>
<text x="119.00" y="745.00" font-size="14" text-anchor="middle">5</text>
<line x1="159.10" y1="722.50" x2="159.10" y2="726.50" stroke="#000000" stroke-width="1.6"/>
<text x="159.10" y="745.00" font-size="14" text-anchor="middle">10</text>
<line x1="199.20" y1="722.50" x2="199.20" y2="726.50" stroke="#000000" stroke-width="1.6"/>
<text x="199.20" y="745.00" font-size="14" text-anchor="middle">15</text>
<line x1="239.30" y1="722.50" x2="239.30" y2="726.50" stroke="#000000" stroke-width="1.6"/>
<text x="239.30" y="745.00" font-size="14" text-anchor="middle">20</text>
<line x1="279.40" y1="722.50" x2="279.40" y2="726.50" stroke="#000000" stroke-width="1.6"/>
<text x="279.40" y="745.00" font-size="14" text-anchor="middle">25</text>
<line x1="319.50" y1="722.50" x2="319.50" y2="726.50" stroke="#000000" stroke-width="1.6"/>
<text x="319.50" y="745.00" font-size="14" text-anchor="middle">30</text>
<text x="199.40" y="766.80" font-size="16.3" text-anchor="middle">Time (min)</text>
<text x="33.30" y="650.00" font-size="16.4" text-anchor="middle" transform="rotate(-90 33.30 650.00)">Transmittance (%)</text>
<polyline points="78.90,607.86 82.91,607.86 86.92,607.86 90.93,607.86 94.94,607.86 98.95,607.86 102.96,607.86 106.97,607.86 110.98,607.86 114.99,607.86 119.00,607.86 123.01,607.86 127.02,607.86 131.03,607.86 135.04,607.86 139.05,607.86 143.06,607.86 147.07,607.86 151.08,607.86 155.09,607.86 159.10,607.86 163.11,607.86 167.12,607.86 171.13,607.86 175.14,607.86 179.15,607.86 183.16,607.86 187.17,607.86 191.18,607.86 195.19,607.86 199.20,607.86 203.21,607.86 207.22,607.86 211.23,607.86 215.24,607.86 219.25,607.86 223.26,607.86 227.27,607.86 231.28,607.86 235.29,607.86 239.30,607.86 243.31,607.86 247.32,607.86 251.33,607.86 255.34,607.86 259.35,607.86 263.36,607.86 267.37,607.86 271.38,607.86 275.39,607.86 279.40,607.86 283.41,607.86 287.42,607.86 291.43,607.86 295.44,607.86 299.45,607.86 303.46,607.86 307.47,607.86 311.48,607.86 315.49,607.86 319.50,607.86" fill="none" stroke="#FF2314" stroke-width="1.4" stroke-linejoin="round"/>
<circle cx="78.90" cy="607.86" r="2.6" fill="#fff" stroke="#FF2314" stroke-width="1.15"/>
<circle cx="82.91" cy="607.86" r="2.6" fill="#fff" stroke="#FF2314" stroke-width="1.15"/>
<circle cx="86.92" cy="607.86" r="2.6" fill="#fff" stroke="#FF2314" stroke-width="1.15"/>
<circle cx="90.93" cy="607.86" r="2.6" fill="#fff" stroke="#FF2314" stroke-width="1.15"/>
<circle cx="94.94" cy="607.86" r="2.6" fill="#fff" stroke="#FF2314" stroke-width="1.15"/>
<circle cx="98.95" cy="607.86" r="2.6" fill="#fff" stroke="#FF2314" stroke-width="1.15"/>
<circle cx="102.96" cy="607.86" r="2.6" fill="#fff" stroke="#FF2314" stroke-width="1.15"/>
<circle cx="106.97" cy="607.86" r="2.6" fill="#fff" stroke="#FF2314" stroke-width="1.15"/>
<circle cx="110.98" cy="607.86" r="2.6" fill="#fff" stroke="#FF2314" stroke-width="1.15"/>
<circle cx="114.99" cy="607.86" r="2.6" fill="#fff" stroke="#FF2314" stroke-width="1.15"/>
<circle cx="119.00" cy="607.86" r="2.6" fill="#fff" stroke="#FF2314" stroke-width="1.15"/>
<circle cx="123.01" cy="607.86" r="2.6" fill="#fff" stroke="#FF2314" stroke-width="1.15"/>
<circle cx="127.02" cy="607.86" r="2.6" fill="#fff" stroke="#FF2314" stroke-width="1.15"/>
<circle cx="131.03" cy="607.86" r="2.6" fill="#fff" stroke="#FF2314" stroke-width="1.15"/>
<circle cx="135.04" cy="607.86" r="2.6" fill="#fff" stroke="#FF2314" stroke-width="1.15"/>
<circle cx="139.05" cy="607.86" r="2.6" fill="#fff" stroke="#FF2314" stroke-width="1.15"/>
<circle cx="143.06" cy="607.86" r="2.6" fill="#fff" stroke="#FF2314" stroke-width="1.15"/>
<circle cx="147.07" cy="607.86" r="2.6" fill="#fff" stroke="#FF2314" stroke-width="1.15"/>
<circle cx="151.08" cy="607.86" r="2.6" fill="#fff" stroke="#FF2314" stroke-width="1.15"/>
<circle cx="155.09" cy="607.86" r="2.6" fill="#fff" stroke="#FF2314" stroke-width="1.15"/>
<circle cx="159.10" cy="607.86" r="2.6" fill="#fff" stroke="#FF2314" stroke-width="1.15"/>
<circle cx="163.11" cy="607.86" r="2.6" fill="#fff" stroke="#FF2314" stroke-width="1.15"/>
<circle cx="167.12" cy="607.86" r="2.6" fill="#fff" stroke="#FF2314" stroke-width="1.15"/>
<circle cx="171.13" cy="607.86" r="2.6" fill="#fff" stroke="#FF2314" stroke-width="1.15"/>
<circle cx="175.14" cy="607.86" r="2.6" fill="#fff" stroke="#FF2314" stroke-width="1.15"/>
<circle cx="179.15" cy="607.86" r="2.6" fill="#fff" stroke="#FF2314" stroke-width="1.15"/>
<circle cx="183.16" cy="607.86" r="2.6" fill="#fff" stroke="#FF2314" stroke-width="1.15"/>
<circle cx="187.17" cy="607.86" r="2.6" fill="#fff" stroke="#FF2314" stroke-width="1.15"/>
<circle cx="191.18" cy="607.86" r="2.6" fill="#fff" stroke="#FF2314" stroke-width="1.15"/>
<circle cx="195.19" cy="607.86" r="2.6" fill="#fff" stroke="#FF2314" stroke-width="1.15"/>
<circle cx="199.20" cy="607.86" r="2.6" fill="#fff" stroke="#FF2314" stroke-width="1.15"/>
<circle cx="203.21" cy="607.86" r="2.6" fill="#fff" stroke="#FF2314" stroke-width="1.15"/>
<circle cx="207.22" cy="607.86" r="2.6" fill="#fff" stroke="#FF2314" stroke-width="1.15"/>
<circle cx="211.23" cy="607.86" r="2.6" fill="#fff" stroke="#FF2314" stroke-width="1.15"/>
<circle cx="215.24" cy="607.86" r="2.6" fill="#fff" stroke="#FF2314" stroke-width="1.15"/>
<circle cx="219.25" cy="607.86" r="2.6" fill="#fff" stroke="#FF2314" stroke-width="1.15"/>
<circle cx="223.26" cy="607.86" r="2.6" fill="#fff" stroke="#FF2314" stroke-width="1.15"/>
<circle cx="227.27" cy="607.86" r="2.6" fill="#fff" stroke="#FF2314" stroke-width="1.15"/>
<circle cx="231.28" cy="607.86" r="2.6" fill="#fff" stroke="#FF2314" stroke-width="1.15"/>
<circle cx="235.29" cy="607.86" r="2.6" fill="#fff" stroke="#FF2314" stroke-width="1.15"/>
<circle cx="239.30" cy="607.86" r="2.6" fill="#fff" stroke="#FF2314" stroke-width="1.15"/>
<circle cx="243.31" cy="607.86" r="2.6" fill="#fff" stroke="#FF2314" stroke-width="1.15"/>
<circle cx="247.32" cy="607.86" r="2.6" fill="#fff" stroke="#FF2314" stroke-width="1.15"/>
<circle cx="251.33" cy="607.86" r="2.6" fill="#fff" stroke="#FF2314" stroke-width="1.15"/>
<circle cx="255.34" cy="607.86" r="2.6" fill="#fff" stroke="#FF2314" stroke-width="1.15"/>
<circle cx="259.35" cy="607.86" r="2.6" fill="#fff" stroke="#FF2314" stroke-width="1.15"/>
<circle cx="263.36" cy="607.86" r="2.6" fill="#fff" stroke="#FF2314" stroke-width="1.15"/>
<circle cx="267.37" cy="607.86" r="2.6" fill="#fff" stroke="#FF2314" stroke-width="1.15"/>
<circle cx="271.38" cy="607.86" r="2.6" fill="#fff" stroke="#FF2314" stroke-width="1.15"/>
<circle cx="275.39" cy="607.86" r="2.6" fill="#fff" stroke="#FF2314" stroke-width="1.15"/>
<circle cx="279.40" cy="607.86" r="2.6" fill="#fff" stroke="#FF2314" stroke-width="1.15"/>
<circle cx="283.41" cy="607.86" r="2.6" fill="#fff" stroke="#FF2314" stroke-width="1.15"/>
<circle cx="287.42" cy="607.86" r="2.6" fill="#fff" stroke="#FF2314" stroke-width="1.15"/>
<circle cx="291.43" cy="607.86" r="2.6" fill="#fff" stroke="#FF2314" stroke-width="1.15"/>
<circle cx="295.44" cy="607.86" r="2.6" fill="#fff" stroke="#FF2314" stroke-width="1.15"/>
<circle cx="299.45" cy="607.86" r="2.6" fill="#fff" stroke="#FF2314" stroke-width="1.15"/>
<circle cx="303.46" cy="607.86" r="2.6" fill="#fff" stroke="#FF2314" stroke-width="1.15"/>
<circle cx="307.47" cy="607.86" r="2.6" fill="#fff" stroke="#FF2314" stroke-width="1.15"/>
<circle cx="311.48" cy="607.86" r="2.6" fill="#fff" stroke="#FF2314" stroke-width="1.15"/>
<circle cx="315.49" cy="607.86" r="2.6" fill="#fff" stroke="#FF2314" stroke-width="1.15"/>
<circle cx="319.50" cy="607.86" r="2.6" fill="#fff" stroke="#FF2314" stroke-width="1.15"/>
<polyline points="78.90,607.86 82.91,607.86 86.92,699.46 90.93,706.17 94.94,709.30 98.95,710.11 102.96,710.46 106.97,710.47 110.98,710.48 114.99,710.49 119.00,710.50 123.01,710.51 127.02,710.52 131.03,710.53 135.04,710.54 139.05,710.55 143.06,710.56 147.07,710.57 151.08,710.59 155.09,710.60 159.10,710.61 163.11,710.62 167.12,710.63 171.13,710.64 175.14,710.65 179.15,710.66 183.16,710.67 187.17,710.68 191.18,710.69 195.19,710.70 199.20,710.71 203.21,710.72 207.22,710.74 211.23,710.75 215.24,710.76 219.25,710.77 223.26,710.78 227.27,710.79 231.28,710.80 235.29,710.81 239.30,710.82 243.31,710.83 247.32,710.84 251.33,710.85 255.34,710.86 259.35,710.87 263.36,710.89 267.37,710.90 271.38,710.91 275.39,710.92 279.40,710.93 283.41,710.94 287.42,710.95 291.43,710.96 295.44,710.97 299.45,710.98 303.46,710.99 307.47,711.00 311.48,711.01 315.49,711.03 319.50,711.04" fill="none" stroke="#FF2314" stroke-width="1.6" stroke-linejoin="round"/>
<path d="M78.90 604.76L82.00 607.86L78.90 610.96L75.80 607.86Z" fill="#FF2314"/>
<path d="M82.91 604.76L86.01 607.86L82.91 610.96L79.81 607.86Z" fill="#FF2314"/>
<path d="M86.92 696.36L90.02 699.46L86.92 702.56L83.82 699.46Z" fill="#FF2314"/>
<path d="M90.93 703.07L94.03 706.17L90.93 709.27L87.83 706.17Z" fill="#FF2314"/>
<path d="M94.94 706.20L98.04 709.30L94.94 712.40L91.84 709.30Z" fill="#FF2314"/>
<path d="M98.95 707.01L102.05 710.11L98.95 713.21L95.85 710.11Z" fill="#FF2314"/>
<path d="M102.96 707.36L106.06 710.46L102.96 713.56L99.86 710.46Z" fill="#FF2314"/>
<path d="M106.97 707.37L110.07 710.47L106.97 713.57L103.87 710.47Z" fill="#FF2314"/>
<path d="M110.98 707.38L114.08 710.48L110.98 713.58L107.88 710.48Z" fill="#FF2314"/>
<path d="M114.99 707.39L118.09 710.49L114.99 713.59L111.89 710.49Z" fill="#FF2314"/>
<path d="M119.00 707.40L122.10 710.50L119.00 713.60L115.90 710.50Z" fill="#FF2314"/>
<path d="M123.01 707.41L126.11 710.51L123.01 713.61L119.91 710.51Z" fill="#FF2314"/>
<path d="M127.02 707.42L130.12 710.52L127.02 713.62L123.92 710.52Z" fill="#FF2314"/>
<path d="M131.03 707.43L134.13 710.53L131.03 713.63L127.93 710.53Z" fill="#FF2314"/>
<path d="M135.04 707.44L138.14 710.54L135.04 713.64L131.94 710.54Z" fill="#FF2314"/>
<path d="M139.05 707.45L142.15 710.55L139.05 713.65L135.95 710.55Z" fill="#FF2314"/>
<path d="M143.06 707.46L146.16 710.56L143.06 713.66L139.96 710.56Z" fill="#FF2314"/>
<path d="M147.07 707.47L150.17 710.57L147.07 713.67L143.97 710.57Z" fill="#FF2314"/>
<path d="M151.08 707.49L154.18 710.59L151.08 713.69L147.98 710.59Z" fill="#FF2314"/>
<path d="M155.09 707.50L158.19 710.60L155.09 713.70L151.99 710.60Z" fill="#FF2314"/>
<path d="M159.10 707.51L162.20 710.61L159.10 713.71L156.00 710.61Z" fill="#FF2314"/>
<path d="M163.11 707.52L166.21 710.62L163.11 713.72L160.01 710.62Z" fill="#FF2314"/>
<path d="M167.12 707.53L170.22 710.63L167.12 713.73L164.02 710.63Z" fill="#FF2314"/>
<path d="M171.13 707.54L174.23 710.64L171.13 713.74L168.03 710.64Z" fill="#FF2314"/>
<path d="M175.14 707.55L178.24 710.65L175.14 713.75L172.04 710.65Z" fill="#FF2314"/>
<path d="M179.15 707.56L182.25 710.66L179.15 713.76L176.05 710.66Z" fill="#FF2314"/>
<path d="M183.16 707.57L186.26 710.67L183.16 713.77L180.06 710.67Z" fill="#FF2314"/>
<path d="M187.17 707.58L190.27 710.68L187.17 713.78L184.07 710.68Z" fill="#FF2314"/>
<path d="M191.18 707.59L194.28 710.69L191.18 713.79L188.08 710.69Z" fill="#FF2314"/>
<path d="M195.19 707.60L198.29 710.70L195.19 713.80L192.09 710.70Z" fill="#FF2314"/>
<path d="M199.20 707.61L202.30 710.71L199.20 713.81L196.10 710.71Z" fill="#FF2314"/>
<path d="M203.21 707.62L206.31 710.72L203.21 713.82L200.11 710.72Z" fill="#FF2314"/>
<path d="M207.22 707.64L210.32 710.74L207.22 713.84L204.12 710.74Z" fill="#FF2314"/>
<path d="M211.23 707.65L214.33 710.75L211.23 713.85L208.13 710.75Z" fill="#FF2314"/>
<path d="M215.24 707.66L218.34 710.76L215.24 713.86L212.14 710.76Z" fill="#FF2314"/>
<path d="M219.25 707.67L222.35 710.77L219.25 713.87L216.15 710.77Z" fill="#FF2314"/>
<path d="M223.26 707.68L226.36 710.78L223.26 713.88L220.16 710.78Z" fill="#FF2314"/>
<path d="M227.27 707.69L230.37 710.79L227.27 713.89L224.17 710.79Z" fill="#FF2314"/>
<path d="M231.28 707.70L234.38 710.80L231.28 713.90L228.18 710.80Z" fill="#FF2314"/>
<path d="M235.29 707.71L238.39 710.81L235.29 713.91L232.19 710.81Z" fill="#FF2314"/>
<path d="M239.30 707.72L242.40 710.82L239.30 713.92L236.20 710.82Z" fill="#FF2314"/>
<path d="M243.31 707.73L246.41 710.83L243.31 713.93L240.21 710.83Z" fill="#FF2314"/>
<path d="M247.32 707.74L250.42 710.84L247.32 713.94L244.22 710.84Z" fill="#FF2314"/>
<path d="M251.33 707.75L254.43 710.85L251.33 713.95L248.23 710.85Z" fill="#FF2314"/>
<path d="M255.34 707.76L258.44 710.86L255.34 713.96L252.24 710.86Z" fill="#FF2314"/>
<path d="M259.35 707.77L262.45 710.87L259.35 713.97L256.25 710.87Z" fill="#FF2314"/>
<path d="M263.36 707.79L266.46 710.89L263.36 713.99L260.26 710.89Z" fill="#FF2314"/>
<path d="M267.37 707.80L270.47 710.90L267.37 714.00L264.27 710.90Z" fill="#FF2314"/>
<path d="M271.38 707.81L274.48 710.91L271.38 714.01L268.28 710.91Z" fill="#FF2314"/>
<path d="M275.39 707.82L278.49 710.92L275.39 714.02L272.29 710.92Z" fill="#FF2314"/>
<path d="M279.40 707.83L282.50 710.93L279.40 714.03L276.30 710.93Z" fill="#FF2314"/>
<path d="M283.41 707.84L286.51 710.94L283.41 714.04L280.31 710.94Z" fill="#FF2314"/>
<path d="M287.42 707.85L290.52 710.95L287.42 714.05L284.32 710.95Z" fill="#FF2314"/>
<path d="M291.43 707.86L294.53 710.96L291.43 714.06L288.33 710.96Z" fill="#FF2314"/>
<path d="M295.44 707.87L298.54 710.97L295.44 714.07L292.34 710.97Z" fill="#FF2314"/>
<path d="M299.45 707.88L302.55 710.98L299.45 714.08L296.35 710.98Z" fill="#FF2314"/>
<path d="M303.46 707.89L306.56 710.99L303.46 714.09L300.36 710.99Z" fill="#FF2314"/>
<path d="M307.47 707.90L310.57 711.00L307.47 714.10L304.37 711.00Z" fill="#FF2314"/>
<path d="M311.48 707.91L314.58 711.01L311.48 714.11L308.38 711.01Z" fill="#FF2314"/>
<path d="M315.49 707.93L318.59 711.03L315.49 714.13L312.39 711.03Z" fill="#FF2314"/>
<path d="M319.50 707.94L322.60 711.04L319.50 714.14L316.40 711.04Z" fill="#FF2314"/>
<line x1="251.50" y1="650.90" x2="284.00" y2="650.90" stroke="#FF2314" stroke-width="1.6"/>
<circle cx="267.70" cy="650.90" r="2.9" fill="#fff" stroke="#FF2314" stroke-width="1.3"/>
<line x1="251.50" y1="677.50" x2="284.00" y2="677.50" stroke="#FF2314" stroke-width="1.6"/>
<path d="M267.70 674.30L270.90 677.50L267.70 680.70L264.50 677.50Z" fill="#FF2314"/>
<text x="288.40" y="656.70" font-size="18">37°C</text>
<text x="288.40" y="683.30" font-size="18">42°C</text>
<text x="145.20" y="571.30" font-size="15.5">intra</text>
<text x="175.50" y="578.70" font-size="17.5">Arg-TRM</text>
<line x1="78.90" y1="810.75" x2="78.90" y2="959.50" stroke="#000000" stroke-width="1.6"/>
<line x1="74.90" y1="955.50" x2="320.00" y2="955.50" stroke="#000000" stroke-width="1.6"/>
<line x1="74.90" y1="955.50" x2="78.90" y2="955.50" stroke="#000000" stroke-width="1.6"/>
<text x="66.30" y="960.50" font-size="14" text-anchor="end">0</text>
<line x1="74.90" y1="926.55" x2="78.90" y2="926.55" stroke="#000000" stroke-width="1.6"/>
<text x="66.30" y="931.55" font-size="14" text-anchor="end">25</text>
<line x1="74.90" y1="897.60" x2="78.90" y2="897.60" stroke="#000000" stroke-width="1.6"/>
<text x="66.30" y="902.60" font-size="14" text-anchor="end">50</text>
<line x1="74.90" y1="868.65" x2="78.90" y2="868.65" stroke="#000000" stroke-width="1.6"/>
<text x="66.30" y="873.65" font-size="14" text-anchor="end">75</text>
<line x1="74.90" y1="839.70" x2="78.90" y2="839.70" stroke="#000000" stroke-width="1.6"/>
<text x="66.30" y="844.70" font-size="14" text-anchor="end">100</text>
<line x1="74.90" y1="810.75" x2="78.90" y2="810.75" stroke="#000000" stroke-width="1.6"/>
<text x="66.30" y="815.75" font-size="14" text-anchor="end">125</text>
<line x1="78.90" y1="955.50" x2="78.90" y2="959.50" stroke="#000000" stroke-width="1.6"/>
<text x="78.90" y="978.00" font-size="14" text-anchor="middle">0</text>
<line x1="119.00" y1="955.50" x2="119.00" y2="959.50" stroke="#000000" stroke-width="1.6"/>
<text x="119.00" y="978.00" font-size="14" text-anchor="middle">5</text>
<line x1="159.10" y1="955.50" x2="159.10" y2="959.50" stroke="#000000" stroke-width="1.6"/>
<text x="159.10" y="978.00" font-size="14" text-anchor="middle">10</text>
<line x1="199.20" y1="955.50" x2="199.20" y2="959.50" stroke="#000000" stroke-width="1.6"/>
<text x="199.20" y="978.00" font-size="14" text-anchor="middle">15</text>
<line x1="239.30" y1="955.50" x2="239.30" y2="959.50" stroke="#000000" stroke-width="1.6"/>
<text x="239.30" y="978.00" font-size="14" text-anchor="middle">20</text>
<line x1="279.40" y1="955.50" x2="279.40" y2="959.50" stroke="#000000" stroke-width="1.6"/>
<text x="279.40" y="978.00" font-size="14" text-anchor="middle">25</text>
<line x1="319.50" y1="955.50" x2="319.50" y2="959.50" stroke="#000000" stroke-width="1.6"/>
<text x="319.50" y="978.00" font-size="14" text-anchor="middle">30</text>
<text x="199.40" y="999.80" font-size="16.3" text-anchor="middle">Time (min)</text>
<text x="33.30" y="883.00" font-size="16.4" text-anchor="middle" transform="rotate(-90 33.30 883.00)">Transmittance (%)</text>
<polyline points="78.90,840.86 82.91,840.86 86.92,840.86 90.93,840.86 94.94,840.86 98.95,840.86 102.96,840.86 106.97,840.86 110.98,840.86 114.99,840.86 119.00,840.86 123.01,840.86 127.02,840.86 131.03,840.86 135.04,840.86 139.05,840.86 143.06,840.86 147.07,840.86 151.08,840.86 155.09,840.86 159.10,840.86 163.11,840.86 167.12,840.86 171.13,840.86 175.14,840.86 179.15,840.86 183.16,840.86 187.17,840.86 191.18,840.86 195.19,840.86 199.20,840.86 203.21,840.86 207.22,840.86 211.23,840.86 215.24,840.86 219.25,840.86 223.26,840.86 227.27,840.86 231.28,840.86 235.29,840.86 239.30,840.86 243.31,840.86 247.32,840.86 251.33,840.86 255.34,840.86 259.35,840.86 263.36,840.86 267.37,840.86 271.38,840.86 275.39,840.86 279.40,840.86 283.41,840.86 287.42,840.86 291.43,840.86 295.44,840.86 299.45,840.86 303.46,840.86 307.47,840.86 311.48,840.86 315.49,840.86 319.50,840.86" fill="none" stroke="#000000" stroke-width="1.4" stroke-linejoin="round"/>
<circle cx="78.90" cy="840.86" r="2.6" fill="#fff" stroke="#000000" stroke-width="1.15"/>
<circle cx="82.91" cy="840.86" r="2.6" fill="#fff" stroke="#000000" stroke-width="1.15"/>
<circle cx="86.92" cy="840.86" r="2.6" fill="#fff" stroke="#000000" stroke-width="1.15"/>
<circle cx="90.93" cy="840.86" r="2.6" fill="#fff" stroke="#000000" stroke-width="1.15"/>
<circle cx="94.94" cy="840.86" r="2.6" fill="#fff" stroke="#000000" stroke-width="1.15"/>
<circle cx="98.95" cy="840.86" r="2.6" fill="#fff" stroke="#000000" stroke-width="1.15"/>
<circle cx="102.96" cy="840.86" r="2.6" fill="#fff" stroke="#000000" stroke-width="1.15"/>
<circle cx="106.97" cy="840.86" r="2.6" fill="#fff" stroke="#000000" stroke-width="1.15"/>
<circle cx="110.98" cy="840.86" r="2.6" fill="#fff" stroke="#000000" stroke-width="1.15"/>
<circle cx="114.99" cy="840.86" r="2.6" fill="#fff" stroke="#000000" stroke-width="1.15"/>
<circle cx="119.00" cy="840.86" r="2.6" fill="#fff" stroke="#000000" stroke-width="1.15"/>
<circle cx="123.01" cy="840.86" r="2.6" fill="#fff" stroke="#000000" stroke-width="1.15"/>
<circle cx="127.02" cy="840.86" r="2.6" fill="#fff" stroke="#000000" stroke-width="1.15"/>
<circle cx="131.03" cy="840.86" r="2.6" fill="#fff" stroke="#000000" stroke-width="1.15"/>
<circle cx="135.04" cy="840.86" r="2.6" fill="#fff" stroke="#000000" stroke-width="1.15"/>
<circle cx="139.05" cy="840.86" r="2.6" fill="#fff" stroke="#000000" stroke-width="1.15"/>
<circle cx="143.06" cy="840.86" r="2.6" fill="#fff" stroke="#000000" stroke-width="1.15"/>
<circle cx="147.07" cy="840.86" r="2.6" fill="#fff" stroke="#000000" stroke-width="1.15"/>
<circle cx="151.08" cy="840.86" r="2.6" fill="#fff" stroke="#000000" stroke-width="1.15"/>
<circle cx="155.09" cy="840.86" r="2.6" fill="#fff" stroke="#000000" stroke-width="1.15"/>
<circle cx="159.10" cy="840.86" r="2.6" fill="#fff" stroke="#000000" stroke-width="1.15"/>
<circle cx="163.11" cy="840.86" r="2.6" fill="#fff" stroke="#000000" stroke-width="1.15"/>
<circle cx="167.12" cy="840.86" r="2.6" fill="#fff" stroke="#000000" stroke-width="1.15"/>
<circle cx="171.13" cy="840.86" r="2.6" fill="#fff" stroke="#000000" stroke-width="1.15"/>
<circle cx="175.14" cy="840.86" r="2.6" fill="#fff" stroke="#000000" stroke-width="1.15"/>
<circle cx="179.15" cy="840.86" r="2.6" fill="#fff" stroke="#000000" stroke-width="1.15"/>
<circle cx="183.16" cy="840.86" r="2.6" fill="#fff" stroke="#000000" stroke-width="1.15"/>
<circle cx="187.17" cy="840.86" r="2.6" fill="#fff" stroke="#000000" stroke-width="1.15"/>
<circle cx="191.18" cy="840.86" r="2.6" fill="#fff" stroke="#000000" stroke-width="1.15"/>
<circle cx="195.19" cy="840.86" r="2.6" fill="#fff" stroke="#000000" stroke-width="1.15"/>
<circle cx="199.20" cy="840.86" r="2.6" fill="#fff" stroke="#000000" stroke-width="1.15"/>
<circle cx="203.21" cy="840.86" r="2.6" fill="#fff" stroke="#000000" stroke-width="1.15"/>
<circle cx="207.22" cy="840.86" r="2.6" fill="#fff" stroke="#000000" stroke-width="1.15"/>
<circle cx="211.23" cy="840.86" r="2.6" fill="#fff" stroke="#000000" stroke-width="1.15"/>
<circle cx="215.24" cy="840.86" r="2.6" fill="#fff" stroke="#000000" stroke-width="1.15"/>
<circle cx="219.25" cy="840.86" r="2.6" fill="#fff" stroke="#000000" stroke-width="1.15"/>
<circle cx="223.26" cy="840.86" r="2.6" fill="#fff" stroke="#000000" stroke-width="1.15"/>
<circle cx="227.27" cy="840.86" r="2.6" fill="#fff" stroke="#000000" stroke-width="1.15"/>
<circle cx="231.28" cy="840.86" r="2.6" fill="#fff" stroke="#000000" stroke-width="1.15"/>
<circle cx="235.29" cy="840.86" r="2.6" fill="#fff" stroke="#000000" stroke-width="1.15"/>
<circle cx="239.30" cy="840.86" r="2.6" fill="#fff" stroke="#000000" stroke-width="1.15"/>
<circle cx="243.31" cy="840.86" r="2.6" fill="#fff" stroke="#000000" stroke-width="1.15"/>
<circle cx="247.32" cy="840.86" r="2.6" fill="#fff" stroke="#000000" stroke-width="1.15"/>
<circle cx="251.33" cy="840.86" r="2.6" fill="#fff" stroke="#000000" stroke-width="1.15"/>
<circle cx="255.34" cy="840.86" r="2.6" fill="#fff" stroke="#000000" stroke-width="1.15"/>
<circle cx="259.35" cy="840.86" r="2.6" fill="#fff" stroke="#000000" stroke-width="1.15"/>
<circle cx="263.36" cy="840.86" r="2.6" fill="#fff" stroke="#000000" stroke-width="1.15"/>
<circle cx="267.37" cy="840.86" r="2.6" fill="#fff" stroke="#000000" stroke-width="1.15"/>
<circle cx="271.38" cy="840.86" r="2.6" fill="#fff" stroke="#000000" stroke-width="1.15"/>
<circle cx="275.39" cy="840.86" r="2.6" fill="#fff" stroke="#000000" stroke-width="1.15"/>
<circle cx="279.40" cy="840.86" r="2.6" fill="#fff" stroke="#000000" stroke-width="1.15"/>
<circle cx="283.41" cy="840.86" r="2.6" fill="#fff" stroke="#000000" stroke-width="1.15"/>
<circle cx="287.42" cy="840.86" r="2.6" fill="#fff" stroke="#000000" stroke-width="1.15"/>
<circle cx="291.43" cy="840.86" r="2.6" fill="#fff" stroke="#000000" stroke-width="1.15"/>
<circle cx="295.44" cy="840.86" r="2.6" fill="#fff" stroke="#000000" stroke-width="1.15"/>
<circle cx="299.45" cy="840.86" r="2.6" fill="#fff" stroke="#000000" stroke-width="1.15"/>
<circle cx="303.46" cy="840.86" r="2.6" fill="#fff" stroke="#000000" stroke-width="1.15"/>
<circle cx="307.47" cy="840.86" r="2.6" fill="#fff" stroke="#000000" stroke-width="1.15"/>
<circle cx="311.48" cy="840.86" r="2.6" fill="#fff" stroke="#000000" stroke-width="1.15"/>
<circle cx="315.49" cy="840.86" r="2.6" fill="#fff" stroke="#000000" stroke-width="1.15"/>
<circle cx="319.50" cy="840.86" r="2.6" fill="#fff" stroke="#000000" stroke-width="1.15"/>
<polyline points="78.90,840.86 82.91,844.33 86.92,895.28 90.93,911.50 94.94,920.18 98.95,924.23 102.96,926.55 106.97,927.48 110.98,928.29 114.99,928.87 119.00,929.56 123.01,929.83 127.02,930.09 131.03,930.36 135.04,930.63 139.05,930.89 143.06,931.16 147.07,931.43 151.08,931.69 155.09,931.96 159.10,932.22 163.11,932.40 167.12,932.57 171.13,932.75 175.14,932.92 179.15,933.09 183.16,933.27 187.17,933.44 191.18,933.61 195.19,933.79 199.20,933.96 203.21,934.12 207.22,934.29 211.23,934.45 215.24,934.61 219.25,934.77 223.26,934.93 227.27,935.10 231.28,935.26 235.29,935.42 239.30,935.58 243.31,935.74 247.32,935.91 251.33,936.07 255.34,936.23 259.35,936.39 263.36,936.56 267.37,936.72 271.38,936.88 275.39,937.04 279.40,937.20 283.41,937.37 287.42,937.53 291.43,937.69 295.44,937.85 299.45,938.01 303.46,938.18 307.47,938.34 311.48,938.50 315.49,938.66 319.50,938.82" fill="none" stroke="#000000" stroke-width="1.6" stroke-linejoin="round"/>
<path d="M78.90 837.76L82.00 840.86L78.90 843.96L75.80 840.86Z" fill="#000000"/>
<path d="M82.91 841.23L86.01 844.33L82.91 847.43L79.81 844.33Z" fill="#000000"/>
<path d="M86.92 892.18L90.02 895.28L86.92 898.38L83.82 895.28Z" fill="#000000"/>
<path d="M90.93 908.40L94.03 911.50L90.93 914.60L87.83 911.50Z" fill="#000000"/>
<path d="M94.94 917.08L98.04 920.18L94.94 923.28L91.84 920.18Z" fill="#000000"/>
<path d="M98.95 921.13L102.05 924.23L98.95 927.33L95.85 924.23Z" fill="#000000"/>
<path d="M102.96 923.45L106.06 926.55L102.96 929.65L99.86 926.55Z" fill="#000000"/>
<path d="M106.97 924.38L110.07 927.48L106.97 930.58L103.87 927.48Z" fill="#000000"/>
<path d="M110.98 925.19L114.08 928.29L110.98 931.39L107.88 928.29Z" fill="#000000"/>
<path d="M114.99 925.77L118.09 928.87L114.99 931.97L111.89 928.87Z" fill="#000000"/>
<path d="M119.00 926.46L122.10 929.56L119.00 932.66L115.90 929.56Z" fill="#000000"/>
<path d="M123.01 926.73L126.11 929.83L123.01 932.93L119.91 929.83Z" fill="#000000"/>
<path d="M127.02 926.99L130.12 930.09L127.02 933.19L123.92 930.09Z" fill="#000000"/>
<path d="M131.03 927.26L134.13 930.36L131.03 933.46L127.93 930.36Z" fill="#000000"/>
<path d="M135.04 927.53L138.14 930.63L135.04 933.73L131.94 930.63Z" fill="#000000"/>
<path d="M139.05 927.79L142.15 930.89L139.05 933.99L135.95 930.89Z" fill="#000000"/>
<path d="M143.06 928.06L146.16 931.16L143.06 934.26L139.96 931.16Z" fill="#000000"/>
<path d="M147.07 928.33L150.17 931.43L147.07 934.53L143.97 931.43Z" fill="#000000"/>
<path d="M151.08 928.59L154.18 931.69L151.08 934.79L147.98 931.69Z" fill="#000000"/>
<path d="M155.09 928.86L158.19 931.96L155.09 935.06L151.99 931.96Z" fill="#000000"/>
<path d="M159.10 929.12L162.20 932.22L159.10 935.32L156.00 932.22Z" fill="#000000"/>
<path d="M163.11 929.30L166.21 932.40L163.11 935.50L160.01 932.40Z" fill="#000000"/>
<path d="M167.12 929.47L170.22 932.57L167.12 935.67L164.02 932.57Z" fill="#000000"/>
<path d="M171.13 929.65L174.23 932.75L171.13 935.85L168.03 932.75Z" fill="#000000"/>
<path d="M175.14 929.82L178.24 932.92L175.14 936.02L172.04 932.92Z" fill="#000000"/>
<path d="M179.15 929.99L182.25 933.09L179.15 936.19L176.05 933.09Z" fill="#000000"/>
<path d="M183.16 930.17L186.26 933.27L183.16 936.37L180.06 933.27Z" fill="#000000"/>
<path d="M187.17 930.34L190.27 933.44L187.17 936.54L184.07 933.44Z" fill="#000000"/>
<path d="M191.18 930.51L194.28 933.61L191.18 936.71L188.08 933.61Z" fill="#000000"/>
<path d="M195.19 930.69L198.29 933.79L195.19 936.89L192.09 933.79Z" fill="#000000"/>
<path d="M199.20 930.86L202.30 933.96L199.20 937.06L196.10 933.96Z" fill="#000000"/>
<path d="M203.21 931.02L206.31 934.12L203.21 937.22L200.11 934.12Z" fill="#000000"/>
<path d="M207.22 931.19L210.32 934.29L207.22 937.39L204.12 934.29Z" fill="#000000"/>
<path d="M211.23 931.35L214.33 934.45L211.23 937.55L208.13 934.45Z" fill="#000000"/>
<path d="M215.24 931.51L218.34 934.61L215.24 937.71L212.14 934.61Z" fill="#000000"/>
<path d="M219.25 931.67L222.35 934.77L219.25 937.87L216.15 934.77Z" fill="#000000"/>
<path d="M223.26 931.83L226.36 934.93L223.26 938.03L220.16 934.93Z" fill="#000000"/>
<path d="M227.27 932.00L230.37 935.10L227.27 938.20L224.17 935.10Z" fill="#000000"/>
<path d="M231.28 932.16L234.38 935.26L231.28 938.36L228.18 935.26Z" fill="#000000"/>
<path d="M235.29 932.32L238.39 935.42L235.29 938.52L232.19 935.42Z" fill="#000000"/>
<path d="M239.30 932.48L242.40 935.58L239.30 938.68L236.20 935.58Z" fill="#000000"/>
<path d="M243.31 932.64L246.41 935.74L243.31 938.84L240.21 935.74Z" fill="#000000"/>
<path d="M247.32 932.81L250.42 935.91L247.32 939.01L244.22 935.91Z" fill="#000000"/>
<path d="M251.33 932.97L254.43 936.07L251.33 939.17L248.23 936.07Z" fill="#000000"/>
<path d="M255.34 933.13L258.44 936.23L255.34 939.33L252.24 936.23Z" fill="#000000"/>
<path d="M259.35 933.29L262.45 936.39L259.35 939.49L256.25 936.39Z" fill="#000000"/>
<path d="M263.36 933.46L266.46 936.56L263.36 939.66L260.26 936.56Z" fill="#000000"/>
<path d="M267.37 933.62L270.47 936.72L267.37 939.82L264.27 936.72Z" fill="#000000"/>
<path d="M271.38 933.78L274.48 936.88L271.38 939.98L268.28 936.88Z" fill="#000000"/>
<path d="M275.39 933.94L278.49 937.04L275.39 940.14L272.29 937.04Z" fill="#000000"/>
<path d="M279.40 934.10L282.50 937.20L279.40 940.30L276.30 937.20Z" fill="#000000"/>
<path d="M283.41 934.27L286.51 937.37L283.41 940.47L280.31 937.37Z" fill="#000000"/>
<path d="M287.42 934.43L290.52 937.53L287.42 940.63L284.32 937.53Z" fill="#000000"/>
<path d="M291.43 934.59L294.53 937.69L291.43 940.79L288.33 937.69Z" fill="#000000"/>
<path d="M295.44 934.75L298.54 937.85L295.44 940.95L292.34 937.85Z" fill="#000000"/>
<path d="M299.45 934.91L302.55 938.01L299.45 941.11L296.35 938.01Z" fill="#000000"/>
<path d="M303.46 935.08L306.56 938.18L303.46 941.28L300.36 938.18Z" fill="#000000"/>
<path d="M307.47 935.24L310.57 938.34L307.47 941.44L304.37 938.34Z" fill="#000000"/>
<path d="M311.48 935.40L314.58 938.50L311.48 941.60L308.38 938.50Z" fill="#000000"/>
<path d="M315.49 935.56L318.59 938.66L315.49 941.76L312.39 938.66Z" fill="#000000"/>
<path d="M319.50 935.72L322.60 938.82L319.50 941.92L316.40 938.82Z" fill="#000000"/>
<line x1="251.50" y1="882.00" x2="284.00" y2="882.00" stroke="#000000" stroke-width="1.6"/>
<circle cx="267.70" cy="882.00" r="2.9" fill="#fff" stroke="#000000" stroke-width="1.3"/>
<line x1="251.50" y1="908.60" x2="284.00" y2="908.60" stroke="#000000" stroke-width="1.6"/>
<path d="M267.70 905.40L270.90 908.60L267.70 911.80L264.50 908.60Z" fill="#000000"/>
<text x="288.40" y="887.80" font-size="18">37°C</text>
<text x="288.40" y="914.40" font-size="18">42°C</text>
<text x="179.70" y="810.20" font-size="17.5">TRM</text>
<line x1="430.20" y1="353.20" x2="430.20" y2="487.80" stroke="#000000" stroke-width="1.6"/>
<line x1="426.20" y1="487.00" x2="682.80" y2="487.00" stroke="#000000" stroke-width="1.6"/>
<line x1="426.20" y1="487.00" x2="430.20" y2="487.00" stroke="#000000" stroke-width="1.6"/>
<text x="417.50" y="492.00" font-size="14" text-anchor="end">0</text>
<line x1="426.20" y1="442.40" x2="430.20" y2="442.40" stroke="#000000" stroke-width="1.6"/>
<text x="417.50" y="447.40" font-size="14" text-anchor="end">1000</text>
<line x1="426.20" y1="397.80" x2="430.20" y2="397.80" stroke="#000000" stroke-width="1.6"/>
<text x="417.50" y="402.80" font-size="14" text-anchor="end">2000</text>
<line x1="426.20" y1="353.20" x2="430.20" y2="353.20" stroke="#000000" stroke-width="1.6"/>
<text x="417.50" y="358.20" font-size="14" text-anchor="end">3000</text>
<line x1="451.20" y1="487.00" x2="451.20" y2="490.00" stroke="#000000" stroke-width="1.6"/>
<text x="451.20" y="509.50" font-size="14.5" text-anchor="middle">37°C</text>
<line x1="493.12" y1="487.00" x2="493.12" y2="490.00" stroke="#000000" stroke-width="1.6"/>
<text x="493.12" y="509.50" font-size="14.5" text-anchor="middle">42°C</text>
<line x1="535.04" y1="487.00" x2="535.04" y2="490.00" stroke="#000000" stroke-width="1.6"/>
<text x="535.04" y="509.50" font-size="14.5" text-anchor="middle">37°C</text>
<line x1="576.96" y1="487.00" x2="576.96" y2="490.00" stroke="#000000" stroke-width="1.6"/>
<text x="576.96" y="509.50" font-size="14.5" text-anchor="middle">42°C</text>
<line x1="618.88" y1="487.00" x2="618.88" y2="490.00" stroke="#000000" stroke-width="1.6"/>
<text x="618.88" y="509.50" font-size="14.5" text-anchor="middle">37°C</text>
<line x1="660.80" y1="487.00" x2="660.80" y2="490.00" stroke="#000000" stroke-width="1.6"/>
<text x="660.80" y="509.50" font-size="14.5" text-anchor="middle">42°C</text>
<text x="557.30" y="534.80" font-size="16.6" text-anchor="middle">Temperature (°C)</text>
<text x="376.00" y="432.00" font-size="16.3" text-anchor="middle" transform="rotate(-90 376.00 432.00)">Z-average size (nm)</text>
<line x1="660.80" y1="374.00" x2="660.80" y2="382.50" stroke="#333" stroke-width="1.0"/>
<line x1="657.30" y1="374.00" x2="664.30" y2="374.00" stroke="#333" stroke-width="1.0"/>
<line x1="657.30" y1="382.50" x2="664.30" y2="382.50" stroke="#333" stroke-width="1.0"/>
<polyline points="451.20,484.40 493.12,374.50 535.04,482.50 576.96,377.60 618.88,482.50 660.80,378.20" fill="none" stroke="#EBC02E" stroke-width="1.8" stroke-linejoin="round"/>
<circle cx="451.20" cy="484.40" r="4.0" fill="#fff" stroke="#EBC02E" stroke-width="1.5"/>
<path d="M493.12 369.20L498.42 374.50L493.12 379.80L487.82 374.50Z" fill="#EBC02E"/>
<circle cx="535.04" cy="482.50" r="4.0" fill="#fff" stroke="#EBC02E" stroke-width="1.5"/>
<path d="M576.96 372.30L582.26 377.60L576.96 382.90L571.66 377.60Z" fill="#EBC02E"/>
<circle cx="618.88" cy="482.50" r="4.0" fill="#fff" stroke="#EBC02E" stroke-width="1.5"/>
<path d="M660.80 372.90L666.10 378.20L660.80 383.50L655.50 378.20Z" fill="#EBC02E"/>
<text x="494.70" y="339.40" font-size="15.3">end</text>
<text x="520.50" y="346.60" font-size="17.8">Arg-TRM</text>
<line x1="430.20" y1="584.70" x2="430.20" y2="719.30" stroke="#000000" stroke-width="1.6"/>
<line x1="426.20" y1="718.50" x2="682.80" y2="718.50" stroke="#000000" stroke-width="1.6"/>
<line x1="426.20" y1="718.50" x2="430.20" y2="718.50" stroke="#000000" stroke-width="1.6"/>
<text x="417.50" y="723.50" font-size="14" text-anchor="end">0</text>
<line x1="426.20" y1="673.90" x2="430.20" y2="673.90" stroke="#000000" stroke-width="1.6"/>
<text x="417.50" y="678.90" font-size="14" text-anchor="end">1000</text>
<line x1="426.20" y1="629.30" x2="430.20" y2="629.30" stroke="#000000" stroke-width="1.6"/>
<text x="417.50" y="634.30" font-size="14" text-anchor="end">2000</text>
<line x1="426.20" y1="584.70" x2="430.20" y2="584.70" stroke="#000000" stroke-width="1.6"/>
<text x="417.50" y="589.70" font-size="14" text-anchor="end">3000</text>
<line x1="451.20" y1="718.50" x2="451.20" y2="721.50" stroke="#000000" stroke-width="1.6"/>
<text x="451.20" y="741.00" font-size="14.5" text-anchor="middle">37°C</text>
<line x1="493.12" y1="718.50" x2="493.12" y2="721.50" stroke="#000000" stroke-width="1.6"/>
<text x="493.12" y="741.00" font-size="14.5" text-anchor="middle">42°C</text>
<line x1="535.04" y1="718.50" x2="535.04" y2="721.50" stroke="#000000" stroke-width="1.6"/>
<text x="535.04" y="741.00" font-size="14.5" text-anchor="middle">37°C</text>
<line x1="576.96" y1="718.50" x2="576.96" y2="721.50" stroke="#000000" stroke-width="1.6"/>
<text x="576.96" y="741.00" font-size="14.5" text-anchor="middle">42°C</text>
<line x1="618.88" y1="718.50" x2="618.88" y2="721.50" stroke="#000000" stroke-width="1.6"/>
<text x="618.88" y="741.00" font-size="14.5" text-anchor="middle">37°C</text>
<line x1="660.80" y1="718.50" x2="660.80" y2="721.50" stroke="#000000" stroke-width="1.6"/>
<text x="660.80" y="741.00" font-size="14.5" text-anchor="middle">42°C</text>
<text x="557.30" y="766.30" font-size="16.6" text-anchor="middle">Temperature (°C)</text>
<text x="376.00" y="663.50" font-size="16.3" text-anchor="middle" transform="rotate(-90 376.00 663.50)">Z-average size (nm)</text>
<line x1="660.80" y1="606.50" x2="660.80" y2="615.00" stroke="#333" stroke-width="1.0"/>
<line x1="657.30" y1="606.50" x2="664.30" y2="606.50" stroke="#333" stroke-width="1.0"/>
<line x1="657.30" y1="615.00" x2="664.30" y2="615.00" stroke="#333" stroke-width="1.0"/>
<polyline points="451.20,716.00 493.12,618.10 535.04,713.80 576.96,614.00 618.88,713.80 660.80,610.80" fill="none" stroke="#FF2314" stroke-width="1.8" stroke-linejoin="round"/>
<circle cx="451.20" cy="716.00" r="4.0" fill="#fff" stroke="#FF2314" stroke-width="1.5"/>
<path d="M493.12 612.80L498.42 618.10L493.12 623.40L487.82 618.10Z" fill="#FF2314"/>
<circle cx="535.04" cy="713.80" r="4.0" fill="#fff" stroke="#FF2314" stroke-width="1.5"/>
<path d="M576.96 608.70L582.26 614.00L576.96 619.30L571.66 614.00Z" fill="#FF2314"/>
<circle cx="618.88" cy="713.80" r="4.0" fill="#fff" stroke="#FF2314" stroke-width="1.5"/>
<path d="M660.80 605.50L666.10 610.80L660.80 616.10L655.50 610.80Z" fill="#FF2314"/>
<text x="499.80" y="571.50" font-size="15.3">intra</text>
<text x="529.60" y="578.80" font-size="17.8">Arg-TRM</text>
<line x1="430.20" y1="816.00" x2="430.20" y2="950.60" stroke="#000000" stroke-width="1.6"/>
<line x1="426.20" y1="949.80" x2="682.80" y2="949.80" stroke="#000000" stroke-width="1.6"/>
<line x1="426.20" y1="949.80" x2="430.20" y2="949.80" stroke="#000000" stroke-width="1.6"/>
<text x="417.50" y="954.80" font-size="14" text-anchor="end">0</text>
<line x1="426.20" y1="905.20" x2="430.20" y2="905.20" stroke="#000000" stroke-width="1.6"/>
<text x="417.50" y="910.20" font-size="14" text-anchor="end">1000</text>
<line x1="426.20" y1="860.60" x2="430.20" y2="860.60" stroke="#000000" stroke-width="1.6"/>
<text x="417.50" y="865.60" font-size="14" text-anchor="end">2000</text>
<line x1="426.20" y1="816.00" x2="430.20" y2="816.00" stroke="#000000" stroke-width="1.6"/>
<text x="417.50" y="821.00" font-size="14" text-anchor="end">3000</text>
<line x1="451.20" y1="949.80" x2="451.20" y2="952.80" stroke="#000000" stroke-width="1.6"/>
<text x="451.20" y="972.30" font-size="14.5" text-anchor="middle">37°C</text>
<line x1="493.12" y1="949.80" x2="493.12" y2="952.80" stroke="#000000" stroke-width="1.6"/>
<text x="493.12" y="972.30" font-size="14.5" text-anchor="middle">42°C</text>
<line x1="535.04" y1="949.80" x2="535.04" y2="952.80" stroke="#000000" stroke-width="1.6"/>
<text x="535.04" y="972.30" font-size="14.5" text-anchor="middle">37°C</text>
<line x1="576.96" y1="949.80" x2="576.96" y2="952.80" stroke="#000000" stroke-width="1.6"/>
<text x="576.96" y="972.30" font-size="14.5" text-anchor="middle">42°C</text>
<line x1="618.88" y1="949.80" x2="618.88" y2="952.80" stroke="#000000" stroke-width="1.6"/>
<text x="618.88" y="972.30" font-size="14.5" text-anchor="middle">37°C</text>
<line x1="660.80" y1="949.80" x2="660.80" y2="952.80" stroke="#000000" stroke-width="1.6"/>
<text x="660.80" y="972.30" font-size="14.5" text-anchor="middle">42°C</text>
<text x="557.30" y="997.60" font-size="16.6" text-anchor="middle">Temperature (°C)</text>
<text x="376.00" y="894.80" font-size="16.3" text-anchor="middle" transform="rotate(-90 376.00 894.80)">Z-average size (nm)</text>
<line x1="493.12" y1="828.20" x2="493.12" y2="843.30" stroke="#333" stroke-width="1.0"/>
<line x1="489.62" y1="828.20" x2="496.62" y2="828.20" stroke="#333" stroke-width="1.0"/>
<line x1="489.62" y1="843.30" x2="496.62" y2="843.30" stroke="#333" stroke-width="1.0"/>
<line x1="576.96" y1="824.50" x2="576.96" y2="833.00" stroke="#333" stroke-width="1.0"/>
<line x1="573.46" y1="824.50" x2="580.46" y2="824.50" stroke="#333" stroke-width="1.0"/>
<line x1="573.46" y1="833.00" x2="580.46" y2="833.00" stroke="#333" stroke-width="1.0"/>
<line x1="660.80" y1="828.20" x2="660.80" y2="839.20" stroke="#333" stroke-width="1.0"/>
<line x1="657.30" y1="828.20" x2="664.30" y2="828.20" stroke="#333" stroke-width="1.0"/>
<line x1="657.30" y1="839.20" x2="664.30" y2="839.20" stroke="#333" stroke-width="1.0"/>
<polyline points="451.20,945.30 493.12,835.50 535.04,944.40 576.96,829.20 618.88,944.40 660.80,833.60" fill="none" stroke="#000000" stroke-width="1.8" stroke-linejoin="round"/>
<circle cx="451.20" cy="945.30" r="4.0" fill="#fff" stroke="#000000" stroke-width="1.5"/>
<path d="M493.12 830.20L498.42 835.50L493.12 840.80L487.82 835.50Z" fill="#000000"/>
<circle cx="535.04" cy="944.40" r="4.0" fill="#fff" stroke="#000000" stroke-width="1.5"/>
<path d="M576.96 823.90L582.26 829.20L576.96 834.50L571.66 829.20Z" fill="#000000"/>
<circle cx="618.88" cy="944.40" r="4.0" fill="#fff" stroke="#000000" stroke-width="1.5"/>
<path d="M660.80 828.30L666.10 833.60L660.80 838.90L655.50 833.60Z" fill="#000000"/>
<text x="534.80" y="809.40" font-size="17.8">TRM</text>
<line x1="87.00" y1="1048.10" x2="87.00" y2="1291.10" stroke="#000000" stroke-width="1.6"/>
<line x1="83.00" y1="1291.10" x2="87.00" y2="1291.10" stroke="#000000" stroke-width="1.6"/>
<text x="74.50" y="1295.50" font-size="15" text-anchor="end">-15</text>
<line x1="83.00" y1="1250.60" x2="87.00" y2="1250.60" stroke="#000000" stroke-width="1.6"/>
<text x="74.50" y="1255.00" font-size="15" text-anchor="end">-10</text>
<line x1="83.00" y1="1210.10" x2="87.00" y2="1210.10" stroke="#000000" stroke-width="1.6"/>
<text x="74.50" y="1214.50" font-size="15" text-anchor="end">-5</text>
<line x1="83.00" y1="1169.60" x2="87.00" y2="1169.60" stroke="#000000" stroke-width="1.6"/>
<text x="74.50" y="1174.00" font-size="15" text-anchor="end">0</text>
<line x1="83.00" y1="1129.10" x2="87.00" y2="1129.10" stroke="#000000" stroke-width="1.6"/>
<text x="74.50" y="1133.50" font-size="15" text-anchor="end">5</text>
<line x1="83.00" y1="1088.60" x2="87.00" y2="1088.60" stroke="#000000" stroke-width="1.6"/>
<text x="74.50" y="1093.00" font-size="15" text-anchor="end">10</text>
<line x1="83.00" y1="1048.10" x2="87.00" y2="1048.10" stroke="#000000" stroke-width="1.6"/>
<text x="74.50" y="1052.50" font-size="15" text-anchor="end">15</text>
<line x1="87.00" y1="1169.60" x2="452.60" y2="1169.60" stroke="#000000" stroke-width="1.6"/>
<text x="46.20" y="1170.00" font-size="16.6" text-anchor="middle" transform="rotate(-90 46.20 1170.00)">Zeta potential (mV)</text>
<rect x="106.20" y="1142.80" width="35.40" height="26.80" fill="#fff" stroke="#EBC02E" stroke-width="1.8"/>
<rect x="152.00" y="1088.00" width="38.60" height="81.60" fill="#EBC02E"/>
<rect x="228.30" y="1138.10" width="35.70" height="31.50" fill="#fff" stroke="#FF2314" stroke-width="1.8"/>
<rect x="275.10" y="1090.90" width="36.70" height="78.70" fill="#FF2314"/>
<rect x="350.40" y="1169.60" width="36.00" height="48.90" fill="#fff" stroke="#000000" stroke-width="1.8"/>
<rect x="397.20" y="1169.60" width="37.20" height="86.70" fill="#404040"/>
<line x1="87.00" y1="1169.60" x2="452.60" y2="1169.60" stroke="#000000" stroke-width="1.6"/>
<line x1="123.50" y1="1139.50" x2="123.50" y2="1142.50" stroke="#222" stroke-width="1.0"/>
<line x1="120.00" y1="1139.50" x2="127.00" y2="1139.50" stroke="#222" stroke-width="1.0"/>
<line x1="120.00" y1="1142.50" x2="127.00" y2="1142.50" stroke="#222" stroke-width="1.0"/>
<circle cx="123.50" cy="1139.30" r="3.8" fill="none" stroke="#111" stroke-width="1.0"/>
<circle cx="123.50" cy="1140.90" r="3.8" fill="none" stroke="#111" stroke-width="1.0"/>
<circle cx="123.50" cy="1142.80" r="3.8" fill="none" stroke="#111" stroke-width="1.0"/>
<line x1="171.10" y1="1074.90" x2="171.10" y2="1102.60" stroke="#222" stroke-width="1.0"/>
<line x1="167.60" y1="1074.90" x2="174.60" y2="1074.90" stroke="#222" stroke-width="1.0"/>
<line x1="167.60" y1="1102.60" x2="174.60" y2="1102.60" stroke="#222" stroke-width="1.0"/>
<circle cx="171.10" cy="1074.90" r="3.8" fill="none" stroke="#111" stroke-width="1.0"/>
<circle cx="171.10" cy="1084.50" r="3.8" fill="none" stroke="#111" stroke-width="1.0"/>
<circle cx="171.10" cy="1102.60" r="3.8" fill="none" stroke="#111" stroke-width="1.0"/>
<line x1="245.90" y1="1131.80" x2="245.90" y2="1147.00" stroke="#222" stroke-width="1.0"/>
<line x1="242.40" y1="1131.80" x2="249.40" y2="1131.80" stroke="#222" stroke-width="1.0"/>
<line x1="242.40" y1="1147.00" x2="249.40" y2="1147.00" stroke="#222" stroke-width="1.0"/>
<circle cx="245.90" cy="1131.80" r="3.8" fill="none" stroke="#111" stroke-width="1.0"/>
<circle cx="245.90" cy="1147.00" r="3.8" fill="none" stroke="#111" stroke-width="1.0"/>
<line x1="293.10" y1="1085.50" x2="293.10" y2="1096.50" stroke="#222" stroke-width="1.0"/>
<line x1="289.60" y1="1085.50" x2="296.60" y2="1085.50" stroke="#222" stroke-width="1.0"/>
<line x1="289.60" y1="1096.50" x2="296.60" y2="1096.50" stroke="#222" stroke-width="1.0"/>
<circle cx="293.10" cy="1085.50" r="3.8" fill="none" stroke="#111" stroke-width="1.0"/>
<circle cx="293.10" cy="1096.50" r="3.8" fill="none" stroke="#111" stroke-width="1.0"/>
<line x1="367.50" y1="1217.00" x2="367.50" y2="1218.50" stroke="#222" stroke-width="1.0"/>
<line x1="364.00" y1="1217.00" x2="371.00" y2="1217.00" stroke="#222" stroke-width="1.0"/>
<line x1="364.00" y1="1218.50" x2="371.00" y2="1218.50" stroke="#222" stroke-width="1.0"/>
<circle cx="367.50" cy="1217.70" r="3.8" fill="none" stroke="#111" stroke-width="1.0"/>
<line x1="415.80" y1="1237.10" x2="415.80" y2="1269.50" stroke="#222" stroke-width="1.0"/>
<line x1="412.30" y1="1237.10" x2="419.30" y2="1237.10" stroke="#222" stroke-width="1.0"/>
<line x1="412.30" y1="1269.50" x2="419.30" y2="1269.50" stroke="#222" stroke-width="1.0"/>
<circle cx="415.80" cy="1237.10" r="3.8" fill="none" stroke="#111" stroke-width="1.0"/>
<circle cx="415.80" cy="1258.50" r="3.8" fill="none" stroke="#111" stroke-width="1.0"/>
<circle cx="415.80" cy="1269.50" r="3.8" fill="none" stroke="#111" stroke-width="1.0"/>
<text x="122.90" y="1059.80" font-size="12.6" style="stroke-width:0.08px"><tspan font-style="italic">p</tspan> &lt; <tspan font-weight="bold">0.01</tspan></text>
<line x1="123.70" y1="1066.20" x2="170.00" y2="1066.20" stroke="#000000" stroke-width="1.4"/>
<text x="244.90" y="1059.80" font-size="12.6" style="stroke-width:0.08px"><tspan font-style="italic">p</tspan> &lt; <tspan font-weight="bold">0.01</tspan></text>
<line x1="245.70" y1="1066.20" x2="293.00" y2="1066.20" stroke="#000000" stroke-width="1.4"/>
<text x="367.40" y="1059.80" font-size="12.6" style="stroke-width:0.08px"><tspan font-style="italic">p</tspan> &lt; <tspan font-weight="bold">0.05</tspan></text>
<line x1="368.20" y1="1066.20" x2="415.20" y2="1066.20" stroke="#000000" stroke-width="1.4"/>
<text x="124.20" y="1188.90" font-size="15" text-anchor="middle">37°C</text>
<text x="171.90" y="1188.90" font-size="15" text-anchor="middle">42°C</text>
<line x1="104.70" y1="1198.70" x2="193.00" y2="1198.70" stroke="#000000" stroke-width="1.5"/>
<text x="110.00" y="1214.00" font-size="9.5" font-weight="bold">end</text>
<text x="126.00" y="1219.00" font-size="15">Arg-TRM</text>
<text x="246.50" y="1188.50" font-size="15" text-anchor="middle">37°C</text>
<text x="294.60" y="1188.50" font-size="15" text-anchor="middle">42°C</text>
<line x1="226.10" y1="1198.80" x2="313.60" y2="1198.80" stroke="#000000" stroke-width="1.5"/>
<text x="231.20" y="1213.70" font-size="9.5" font-weight="bold">intra</text>
<text x="249.90" y="1218.70" font-size="15">Arg-TRM</text>
<text x="392.90" y="1133.70" font-size="15" text-anchor="middle">TRM</text>
<line x1="347.50" y1="1140.10" x2="436.20" y2="1140.10" stroke="#000000" stroke-width="1.5"/>
<text x="368.10" y="1160.00" font-size="15" text-anchor="middle">37°C</text>
<text x="416.20" y="1160.00" font-size="15" text-anchor="middle">42°C</text>
</svg></body></html>
